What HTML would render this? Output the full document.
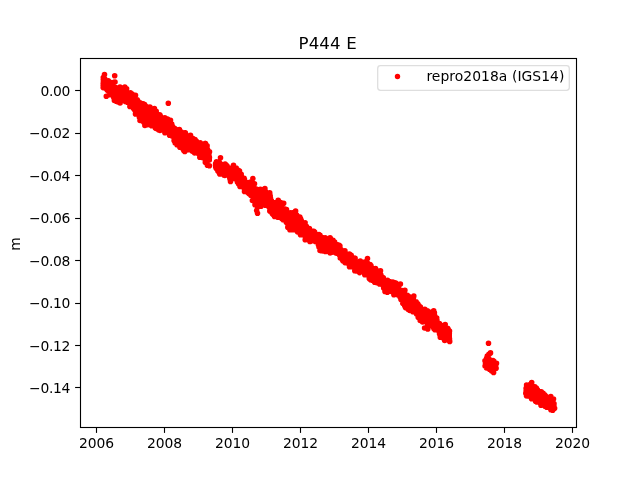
<!DOCTYPE html>
<html lang="en"><head><meta charset="utf-8"><title>P444 E</title>
<style>html,body{margin:0;padding:0;background:#fff;overflow:hidden}svg{display:block}text{font-family:"DejaVu Sans","Liberation Sans",sans-serif;fill:#000}</style></head>
<body>
<svg width="640" height="480" viewBox="0 0 640 480">
<rect width="640" height="480" fill="#fff"/>
<path d="M103.4 83.9h0M103.5 77.7h0M103.6 82.1h0M103.7 84.5h0M104.0 83.4h0M104.0 81.7h0M104.2 82.2h0M104.6 80.6h0M104.9 82.0h0M105.1 84.4h0M105.4 84.0h0M105.4 84.5h0M105.6 84.3h0M105.7 85.1h0M105.7 82.6h0M105.9 83.6h0M106.1 84.4h0M106.1 83.9h0M106.2 84.1h0M106.3 82.4h0M106.4 87.5h0M106.4 87.5h0M106.5 89.1h0M107.0 88.6h0M107.2 89.9h0M107.3 88.6h0M107.3 85.5h0M107.3 86.1h0M107.3 82.7h0M107.4 85.1h0M107.5 84.5h0M107.8 83.7h0M107.8 87.7h0M108.1 88.5h0M108.2 87.0h0M108.2 87.8h0M108.3 89.0h0M108.3 85.4h0M108.4 82.5h0M108.4 83.2h0M108.5 85.8h0M108.5 84.9h0M108.5 81.5h0M108.6 86.1h0M108.6 86.1h0M108.7 88.7h0M108.7 87.3h0M108.8 84.6h0M109.0 85.9h0M109.1 83.7h0M109.1 84.3h0M109.2 84.9h0M109.2 86.9h0M109.4 88.7h0M109.4 84.0h0M109.5 89.4h0M109.5 87.7h0M109.5 86.2h0M109.6 88.7h0M109.6 85.2h0M109.7 89.7h0M109.8 86.7h0M109.8 84.7h0M109.9 89.6h0M109.9 84.9h0M109.9 84.6h0M110.0 87.6h0M110.1 88.5h0M110.2 87.3h0M110.3 82.9h0M110.5 84.3h0M110.6 88.0h0M110.6 88.6h0M110.6 85.5h0M110.6 87.5h0M110.7 86.8h0M110.8 88.7h0M111.4 86.1h0M111.4 90.9h0M111.5 87.3h0M111.6 91.2h0M111.6 90.4h0M111.6 85.3h0M111.7 87.5h0M111.8 88.4h0M111.8 89.7h0M111.8 85.5h0M111.8 88.4h0M112.0 90.3h0M112.3 91.1h0M112.4 87.0h0M112.6 88.6h0M112.7 90.8h0M112.7 86.9h0M112.7 89.9h0M113.0 91.2h0M113.0 87.9h0M113.2 82.5h0M113.2 93.0h0M113.3 92.7h0M113.3 92.0h0M113.3 91.6h0M113.4 85.7h0M113.4 94.1h0M113.4 89.9h0M113.5 92.2h0M113.5 89.2h0M113.6 87.7h0M113.6 89.8h0M113.7 95.6h0M113.7 90.9h0M113.8 88.8h0M113.8 86.6h0M114.0 92.8h0M114.0 92.0h0M114.1 92.8h0M114.3 94.8h0M114.5 96.1h0M114.5 93.4h0M114.6 94.1h0M114.6 93.9h0M114.7 95.3h0M114.7 95.8h0M114.7 95.4h0M114.7 89.9h0M114.8 94.7h0M114.8 96.0h0M115.1 91.4h0M115.3 95.2h0M115.3 93.3h0M115.4 87.8h0M115.4 94.2h0M115.6 96.5h0M115.7 92.3h0M115.9 93.4h0M115.9 99.8h0M116.0 93.4h0M116.2 93.7h0M116.3 96.3h0M116.3 101.2h0M116.5 101.0h0M116.7 97.0h0M117.1 99.1h0M117.6 98.8h0M117.7 94.6h0M117.9 94.1h0M117.9 94.5h0M117.9 100.5h0M118.0 98.4h0M118.0 102.0h0M118.1 100.1h0M118.4 97.0h0M118.6 97.9h0M118.7 97.1h0M118.8 97.0h0M118.9 95.9h0M118.9 94.9h0M119.0 92.9h0M119.0 94.8h0M119.0 99.3h0M119.0 91.3h0M119.1 91.2h0M119.1 94.3h0M119.1 96.1h0M119.3 95.6h0M119.4 97.6h0M119.5 94.5h0M119.6 94.5h0M119.7 97.5h0M119.8 97.5h0M119.8 100.3h0M119.9 99.2h0M120.2 90.5h0M120.3 98.2h0M120.4 93.7h0M120.4 91.0h0M120.5 97.0h0M120.6 96.3h0M120.6 97.1h0M120.7 94.6h0M120.9 94.6h0M120.9 96.9h0M121.0 93.0h0M121.0 95.6h0M121.0 97.0h0M121.1 94.5h0M121.2 96.4h0M121.2 94.8h0M121.3 92.7h0M121.4 92.5h0M121.5 97.0h0M121.6 98.5h0M121.7 94.5h0M121.8 95.3h0M122.0 96.8h0M122.1 91.5h0M122.1 93.4h0M122.2 94.6h0M122.2 95.6h0M122.4 94.2h0M122.4 96.1h0M122.5 93.0h0M122.7 94.9h0M123.1 97.8h0M123.1 92.2h0M123.2 94.2h0M123.3 95.7h0M123.3 99.2h0M123.4 96.5h0M123.4 99.5h0M123.5 99.7h0M123.5 94.3h0M123.6 96.0h0M123.7 92.3h0M124.0 98.1h0M124.0 97.5h0M124.1 95.4h0M124.1 96.1h0M124.3 95.3h0M124.4 93.5h0M124.4 94.4h0M124.5 96.9h0M124.7 92.3h0M124.7 91.5h0M124.8 93.5h0M124.8 95.3h0M125.0 93.1h0M125.3 91.6h0M125.4 94.1h0M125.9 93.5h0M126.0 89.6h0M126.1 92.3h0M126.1 90.0h0M126.1 94.3h0M126.2 94.6h0M126.3 97.6h0M126.3 101.1h0M126.4 94.4h0M126.4 95.1h0M126.4 94.0h0M126.6 88.8h0M126.6 94.6h0M126.6 95.7h0M126.6 96.9h0M126.7 94.9h0M126.7 93.6h0M126.7 96.6h0M126.8 95.4h0M126.9 93.1h0M126.9 93.8h0M127.0 95.4h0M127.2 97.7h0M127.3 100.4h0M127.5 94.3h0M127.6 99.5h0M127.7 95.8h0M127.7 98.4h0M127.8 99.2h0M127.8 94.8h0M127.9 99.3h0M128.0 95.1h0M128.0 96.0h0M128.1 93.4h0M128.3 99.7h0M128.4 98.8h0M128.5 96.8h0M128.5 98.1h0M128.6 95.5h0M128.6 101.3h0M128.7 99.8h0M128.9 101.2h0M129.3 98.9h0M129.3 98.7h0M129.3 99.1h0M129.3 101.8h0M129.4 97.5h0M129.5 99.8h0M129.5 102.5h0M129.6 100.5h0M129.6 102.2h0M129.7 99.4h0M129.8 99.7h0M129.8 101.3h0M129.9 99.5h0M129.9 100.4h0M130.0 98.3h0M130.0 97.1h0M130.0 103.4h0M130.0 99.3h0M130.0 98.0h0M130.2 100.2h0M130.5 96.1h0M130.5 95.9h0M130.5 98.7h0M130.6 100.7h0M130.7 101.1h0M130.8 101.4h0M130.8 101.6h0M131.0 99.4h0M131.0 101.3h0M131.3 100.5h0M131.4 98.6h0M131.5 101.6h0M131.5 101.5h0M131.6 105.7h0M131.6 102.4h0M132.0 99.6h0M132.1 102.3h0M132.1 99.5h0M132.1 102.1h0M132.1 94.1h0M132.2 97.2h0M132.3 96.7h0M132.3 100.3h0M132.7 101.2h0M133.1 99.0h0M133.1 98.1h0M133.1 103.4h0M133.2 107.3h0M133.3 108.1h0M133.4 104.2h0M133.4 105.5h0M133.5 101.6h0M133.6 98.0h0M133.7 105.5h0M133.8 104.9h0M133.8 102.7h0M134.0 105.0h0M134.0 109.1h0M134.1 106.8h0M134.2 103.9h0M134.2 105.9h0M134.3 106.6h0M134.4 104.0h0M134.4 102.0h0M134.6 107.1h0M134.6 102.6h0M134.7 101.4h0M134.8 109.9h0M134.8 108.3h0M135.0 106.2h0M135.1 104.7h0M135.1 106.9h0M135.2 100.5h0M135.4 103.3h0M135.4 102.9h0M135.4 101.5h0M135.5 103.8h0M135.7 101.2h0M135.7 104.5h0M135.9 99.7h0M136.0 102.9h0M136.1 100.8h0M136.2 99.6h0M136.3 101.4h0M136.5 102.9h0M136.5 101.0h0M136.5 106.4h0M136.6 100.9h0M136.6 104.5h0M136.6 104.0h0M136.7 100.3h0M137.0 108.1h0M137.2 99.7h0M137.3 105.6h0M137.3 104.0h0M137.4 106.1h0M137.7 102.0h0M138.0 101.2h0M138.1 103.2h0M138.2 105.4h0M138.4 106.2h0M138.4 104.8h0M138.5 104.7h0M138.5 103.0h0M138.6 102.1h0M138.6 106.5h0M138.7 108.4h0M138.9 108.6h0M138.9 105.7h0M139.1 112.8h0M139.2 105.8h0M139.2 110.1h0M139.3 103.4h0M139.4 108.7h0M139.4 107.1h0M139.6 107.3h0M139.9 107.7h0M139.9 114.7h0M139.9 107.4h0M140.4 110.9h0M140.6 109.3h0M140.6 109.4h0M140.8 110.3h0M140.9 110.6h0M141.0 105.6h0M141.3 110.8h0M141.4 113.0h0M141.4 111.6h0M141.5 114.0h0M141.6 108.0h0M141.8 113.8h0M141.9 109.8h0M141.9 111.4h0M142.0 114.4h0M142.1 115.9h0M142.2 109.8h0M142.2 110.5h0M142.3 117.4h0M142.3 105.3h0M142.4 118.5h0M142.4 118.9h0M142.4 111.9h0M142.5 119.4h0M142.7 116.9h0M142.7 116.7h0M142.8 109.4h0M142.9 113.6h0M143.0 115.6h0M143.0 113.7h0M143.0 114.2h0M143.1 113.3h0M143.2 103.9h0M143.2 110.8h0M143.2 108.4h0M143.3 112.1h0M143.3 110.2h0M143.7 111.4h0M143.7 111.5h0M143.7 116.6h0M143.7 108.3h0M143.7 117.4h0M143.7 110.5h0M143.8 107.3h0M143.9 105.7h0M143.9 114.6h0M144.0 107.8h0M144.0 114.9h0M144.1 112.7h0M144.4 110.3h0M144.5 109.5h0M144.6 112.1h0M144.6 111.6h0M144.8 113.6h0M144.9 111.7h0M144.9 111.2h0M145.2 114.4h0M145.2 107.4h0M145.3 113.8h0M145.3 112.3h0M145.5 108.7h0M145.6 110.1h0M145.6 112.2h0M145.6 108.1h0M145.6 118.4h0M145.7 116.3h0M145.8 109.6h0M145.9 112.8h0M145.9 118.7h0M146.1 114.7h0M146.2 111.1h0M146.2 106.6h0M146.3 106.6h0M146.4 116.6h0M146.4 116.0h0M146.5 111.8h0M146.6 117.0h0M146.6 113.9h0M146.6 114.1h0M146.7 115.4h0M146.7 117.3h0M146.8 124.8h0M147.0 112.9h0M147.2 115.2h0M147.2 119.8h0M147.3 119.3h0M147.3 109.6h0M147.3 118.2h0M147.3 115.1h0M147.4 108.3h0M147.5 120.2h0M147.6 110.5h0M147.6 118.6h0M147.6 112.2h0M147.8 109.3h0M147.8 119.6h0M147.9 118.5h0M147.9 116.4h0M147.9 117.9h0M148.2 116.0h0M148.2 117.0h0M148.2 112.9h0M148.3 117.4h0M148.4 115.4h0M148.4 114.4h0M148.5 112.1h0M148.8 114.0h0M148.8 110.9h0M149.0 114.7h0M149.0 113.2h0M149.0 119.5h0M149.2 113.7h0M149.3 114.5h0M149.4 114.9h0M149.4 117.1h0M149.4 115.9h0M149.7 115.1h0M149.7 122.1h0M149.8 117.3h0M149.8 116.9h0M149.8 122.4h0M149.9 112.1h0M150.0 118.9h0M150.1 118.4h0M150.2 113.0h0M150.3 114.8h0M150.4 118.8h0M150.5 113.8h0M150.6 117.2h0M150.8 120.7h0M150.9 115.9h0M151.0 118.3h0M151.0 115.3h0M151.0 115.1h0M151.1 114.8h0M151.6 115.7h0M151.6 121.3h0M151.6 120.0h0M151.6 125.8h0M151.7 120.8h0M151.8 118.4h0M151.8 122.2h0M151.8 114.6h0M151.9 112.9h0M151.9 116.2h0M152.0 111.1h0M152.2 117.0h0M152.3 119.2h0M152.3 118.3h0M152.3 115.0h0M152.4 115.9h0M152.5 117.3h0M152.5 118.9h0M152.6 114.3h0M152.8 115.1h0M152.8 120.6h0M152.9 117.2h0M152.9 116.5h0M153.0 117.6h0M153.0 115.1h0M153.1 116.6h0M153.1 120.0h0M153.1 115.9h0M153.4 116.3h0M153.5 119.0h0M153.5 118.3h0M153.7 125.7h0M153.7 116.7h0M153.7 120.1h0M153.8 125.2h0M153.8 117.4h0M154.0 118.7h0M154.0 114.3h0M154.4 123.0h0M154.5 124.0h0M154.5 123.2h0M154.5 119.9h0M155.0 120.9h0M155.0 120.0h0M155.1 122.7h0M155.2 119.1h0M155.4 121.4h0M155.5 115.4h0M155.6 119.5h0M155.7 112.5h0M155.7 123.1h0M155.9 126.4h0M155.9 121.9h0M156.0 128.5h0M156.1 119.5h0M156.3 120.3h0M156.3 119.1h0M156.3 119.7h0M156.5 119.8h0M156.9 116.7h0M156.9 118.0h0M157.0 125.3h0M157.1 119.6h0M157.1 124.3h0M157.3 117.8h0M157.3 122.3h0M157.3 124.9h0M157.4 123.8h0M157.5 124.0h0M157.5 123.4h0M157.7 124.7h0M157.9 126.7h0M158.1 128.3h0M158.2 120.8h0M158.3 120.5h0M158.4 126.8h0M158.4 126.8h0M158.4 128.8h0M158.5 129.6h0M158.5 124.7h0M158.5 129.8h0M158.5 126.4h0M158.6 119.4h0M158.6 127.6h0M158.6 125.8h0M158.6 125.2h0M158.7 119.5h0M158.8 121.6h0M158.9 122.7h0M159.1 120.7h0M159.3 123.4h0M159.5 125.4h0M159.5 125.7h0M159.6 126.0h0M159.6 123.1h0M159.6 128.0h0M159.6 123.6h0M159.7 124.7h0M159.7 121.2h0M159.7 116.8h0M159.7 114.9h0M159.8 122.1h0M160.0 118.9h0M160.1 121.2h0M160.3 123.6h0M160.3 117.8h0M160.4 118.0h0M160.4 123.9h0M160.6 123.8h0M160.6 122.8h0M160.8 121.9h0M160.8 117.2h0M160.8 122.9h0M161.1 121.4h0M161.2 124.2h0M161.4 126.7h0M161.5 123.3h0M161.5 125.2h0M161.5 124.8h0M161.5 126.3h0M161.6 128.1h0M161.6 124.0h0M161.8 124.5h0M161.9 124.1h0M161.9 120.4h0M162.0 121.7h0M162.1 124.6h0M162.1 125.9h0M162.2 126.5h0M162.3 127.8h0M162.3 118.3h0M162.4 120.9h0M162.4 117.8h0M162.4 121.2h0M162.6 118.9h0M162.7 127.0h0M162.7 126.4h0M162.7 121.4h0M162.8 124.1h0M162.9 125.1h0M162.9 128.0h0M163.0 125.5h0M163.0 123.7h0M163.1 122.8h0M163.1 124.1h0M163.5 122.7h0M163.7 120.4h0M163.8 120.4h0M163.9 127.0h0M163.9 123.8h0M164.0 125.0h0M164.1 127.5h0M164.2 126.0h0M164.4 128.6h0M164.5 123.9h0M164.6 128.6h0M164.7 123.9h0M164.7 122.7h0M164.8 125.2h0M164.8 128.0h0M164.9 126.4h0M164.9 123.8h0M165.1 129.5h0M165.3 124.7h0M165.4 125.4h0M165.5 127.3h0M165.5 125.0h0M165.6 127.8h0M165.6 127.8h0M165.6 125.9h0M165.8 128.8h0M165.8 125.5h0M165.9 123.6h0M165.9 127.1h0M166.0 124.4h0M166.1 128.3h0M166.1 126.4h0M166.3 125.5h0M166.5 127.5h0M166.5 127.1h0M166.6 119.4h0M166.7 126.8h0M166.8 127.2h0M166.9 127.9h0M167.0 125.3h0M167.1 123.1h0M167.2 126.0h0M167.3 126.6h0M167.3 120.4h0M167.4 121.2h0M167.5 124.8h0M167.5 119.1h0M167.6 123.9h0M167.7 128.1h0M167.8 123.0h0M168.0 124.8h0M168.2 122.7h0M168.3 125.2h0M168.5 127.0h0M168.7 129.0h0M169.0 126.2h0M169.0 128.8h0M169.1 127.9h0M169.1 125.8h0M169.7 131.3h0M169.7 126.5h0M169.7 128.0h0M169.8 134.5h0M170.0 131.9h0M170.1 128.5h0M170.1 131.2h0M170.5 130.0h0M170.5 129.9h0M170.9 126.4h0M171.0 129.9h0M171.0 125.2h0M171.0 130.6h0M171.3 130.3h0M171.3 131.1h0M171.6 133.8h0M171.7 124.0h0M171.7 124.1h0M171.7 125.6h0M171.7 126.8h0M171.8 131.3h0M171.9 129.7h0M171.9 129.5h0M172.0 128.6h0M172.0 129.9h0M172.0 130.0h0M172.3 129.5h0M172.4 126.8h0M172.6 130.0h0M172.6 131.0h0M172.7 130.2h0M172.7 126.6h0M172.8 132.5h0M172.9 132.1h0M173.1 130.3h0M173.3 128.1h0M173.3 128.2h0M173.3 132.6h0M173.6 130.3h0M173.7 128.7h0M173.7 135.3h0M173.8 136.5h0M173.9 135.5h0M173.9 137.4h0M174.0 137.4h0M174.0 134.2h0M174.1 140.5h0M174.2 138.2h0M174.2 138.6h0M174.4 141.0h0M174.7 138.4h0M174.7 140.5h0M174.9 137.6h0M175.1 136.6h0M175.4 135.6h0M175.5 136.1h0M175.6 132.4h0M175.8 136.2h0M175.8 136.4h0M176.0 134.7h0M176.1 131.0h0M176.2 131.1h0M176.2 139.9h0M176.4 135.0h0M176.6 142.6h0M176.7 139.5h0M176.8 141.9h0M176.8 138.5h0M176.9 141.1h0M176.9 140.6h0M177.0 142.0h0M177.0 144.7h0M177.1 143.5h0M177.2 137.6h0M177.6 141.7h0M177.6 142.2h0M177.7 140.3h0M177.9 142.5h0M178.0 144.4h0M178.1 138.6h0M178.1 142.0h0M178.3 142.8h0M178.5 135.8h0M178.5 143.4h0M178.6 143.2h0M178.7 139.0h0M178.7 143.9h0M178.7 139.8h0M178.7 143.0h0M178.8 140.2h0M178.9 136.0h0M179.0 138.8h0M179.1 135.9h0M179.2 137.1h0M179.3 134.0h0M179.3 136.0h0M179.4 135.5h0M179.6 143.5h0M179.7 134.0h0M179.8 137.5h0M179.9 136.3h0M179.9 134.4h0M180.0 141.0h0M180.1 136.4h0M180.2 143.7h0M180.2 140.0h0M180.2 141.1h0M180.4 142.0h0M180.6 143.6h0M180.6 142.3h0M180.6 138.3h0M180.8 140.2h0M180.8 146.0h0M181.0 138.6h0M181.2 145.8h0M181.4 138.5h0M181.6 137.9h0M181.7 135.3h0M182.3 137.7h0M182.3 135.8h0M182.4 139.2h0M182.4 143.1h0M182.5 140.6h0M182.5 140.1h0M182.6 138.9h0M182.6 139.1h0M182.7 136.9h0M182.9 138.8h0M182.9 148.7h0M182.9 142.4h0M183.0 138.2h0M183.0 142.1h0M183.1 146.1h0M183.4 139.9h0M183.5 142.5h0M183.6 139.7h0M183.6 138.2h0M183.8 148.4h0M183.8 150.4h0M184.0 141.9h0M184.0 137.0h0M184.1 146.3h0M184.1 144.8h0M184.3 142.4h0M184.3 145.8h0M184.5 139.2h0M184.6 141.0h0M184.7 140.4h0M184.7 137.2h0M184.9 139.4h0M185.0 139.4h0M185.1 141.9h0M185.1 141.8h0M185.2 132.9h0M185.4 138.7h0M185.5 133.4h0M185.5 136.8h0M185.6 135.6h0M185.6 143.3h0M185.9 140.2h0M185.9 140.2h0M185.9 145.1h0M186.0 144.2h0M186.2 142.0h0M186.3 136.4h0M186.3 143.7h0M186.4 142.5h0M186.6 141.7h0M186.6 144.2h0M186.8 142.4h0M186.9 143.8h0M187.1 146.3h0M187.2 144.0h0M187.2 139.8h0M187.2 146.9h0M187.3 145.7h0M187.4 148.7h0M187.5 142.3h0M187.5 143.8h0M187.6 146.2h0M187.7 144.1h0M187.8 141.7h0M187.9 142.4h0M187.9 142.0h0M187.9 141.0h0M188.0 141.8h0M188.1 143.8h0M188.1 143.1h0M188.2 140.8h0M188.3 145.0h0M188.3 149.6h0M188.3 148.1h0M188.4 139.0h0M188.4 142.3h0M188.5 146.0h0M188.6 145.2h0M188.8 145.7h0M188.9 146.1h0M188.9 145.1h0M189.0 143.5h0M189.0 148.4h0M189.2 142.0h0M189.4 143.9h0M189.4 149.1h0M189.5 148.1h0M189.5 145.5h0M189.6 146.1h0M189.6 145.3h0M189.7 146.1h0M189.9 147.1h0M189.9 149.7h0M189.9 146.4h0M190.1 147.4h0M190.2 146.8h0M190.5 145.1h0M190.5 143.4h0M190.6 145.9h0M190.6 143.9h0M190.7 143.4h0M190.7 143.0h0M191.0 138.9h0M191.0 145.8h0M191.2 147.4h0M191.2 144.5h0M191.2 145.9h0M191.4 147.2h0M191.5 144.5h0M191.6 149.2h0M191.6 148.7h0M191.7 149.4h0M191.7 149.0h0M191.9 141.9h0M191.9 147.9h0M192.0 145.1h0M192.0 146.6h0M192.1 146.4h0M192.1 146.8h0M192.1 144.0h0M192.2 151.1h0M192.2 144.3h0M192.3 141.0h0M192.4 145.6h0M192.4 138.4h0M192.5 147.4h0M192.5 145.2h0M192.6 146.5h0M192.7 146.0h0M192.8 143.6h0M192.9 139.7h0M192.9 142.4h0M193.0 145.8h0M193.2 143.9h0M193.2 144.8h0M193.4 142.6h0M193.6 141.6h0M193.7 144.5h0M194.1 144.8h0M194.2 142.9h0M194.2 141.6h0M194.2 140.2h0M194.3 148.3h0M194.4 141.5h0M194.5 142.2h0M194.7 143.0h0M194.8 147.6h0M194.8 143.9h0M194.9 145.7h0M194.9 145.6h0M195.0 142.0h0M195.1 146.0h0M195.2 143.7h0M195.2 146.1h0M195.3 148.5h0M195.3 145.2h0M195.5 142.6h0M195.7 143.9h0M195.8 144.9h0M195.9 147.2h0M196.2 141.1h0M196.2 141.5h0M196.3 146.3h0M196.4 144.7h0M196.5 145.4h0M196.5 145.0h0M196.6 145.0h0M196.7 143.7h0M197.0 147.1h0M197.1 148.4h0M197.1 147.8h0M197.1 146.0h0M197.2 144.0h0M197.3 145.7h0M197.4 143.5h0M197.4 144.3h0M197.5 146.7h0M197.7 147.2h0M197.7 150.3h0M197.8 150.9h0M198.0 151.0h0M198.1 149.5h0M198.3 149.8h0M198.4 148.4h0M198.6 153.7h0M198.6 150.9h0M198.7 147.9h0M198.7 147.4h0M199.0 153.1h0M199.1 148.9h0M199.2 151.2h0M199.2 149.7h0M199.3 150.4h0M199.4 145.8h0M199.8 149.1h0M199.8 147.7h0M199.8 150.2h0M200.2 153.3h0M200.2 149.8h0M200.3 149.6h0M200.3 152.2h0M200.3 147.2h0M200.4 151.2h0M200.5 148.3h0M200.5 148.4h0M200.7 148.0h0M200.9 147.5h0M200.9 153.9h0M200.9 153.5h0M200.9 151.5h0M201.0 154.3h0M201.2 152.2h0M201.4 149.6h0M201.6 148.6h0M201.8 152.5h0M201.8 152.9h0M201.9 154.7h0M201.9 148.1h0M202.0 148.7h0M202.0 146.7h0M202.1 153.7h0M202.1 150.9h0M202.2 151.4h0M202.2 149.7h0M202.3 148.5h0M202.5 148.5h0M202.6 152.1h0M202.7 147.7h0M202.7 152.3h0M202.7 153.0h0M202.7 150.2h0M202.8 149.1h0M202.9 151.0h0M203.0 153.3h0M203.0 150.1h0M203.0 154.7h0M203.0 156.5h0M203.0 154.1h0M203.0 147.3h0M203.1 145.4h0M203.1 155.3h0M203.1 157.7h0M203.2 149.7h0M203.2 153.5h0M203.3 151.3h0M203.3 150.3h0M203.3 156.3h0M203.4 151.1h0M203.4 154.1h0M203.4 154.9h0M203.4 148.8h0M203.5 155.5h0M203.7 145.9h0M203.8 151.7h0M203.8 149.7h0M204.1 156.7h0M204.3 148.9h0M204.3 146.0h0M204.4 154.1h0M204.4 144.3h0M204.6 150.1h0M204.6 146.7h0M204.7 151.8h0M204.8 147.5h0M204.8 149.2h0M204.8 145.9h0M205.0 143.6h0M205.1 143.7h0M205.2 153.0h0M205.3 149.8h0M205.4 146.1h0M205.5 149.7h0M205.7 153.8h0M205.8 145.8h0M205.9 159.7h0M205.9 150.3h0M206.0 151.4h0M206.1 156.1h0M206.3 153.8h0M206.3 148.8h0M206.3 155.6h0M206.3 154.6h0M206.4 154.9h0M206.6 148.1h0M206.6 148.5h0M206.7 155.5h0M206.7 152.5h0M207.0 146.8h0M207.1 152.1h0M207.1 154.8h0M207.1 149.8h0M207.3 156.9h0M207.6 151.9h0M207.6 154.1h0M207.6 149.8h0M207.7 153.0h0M207.7 154.9h0M207.7 157.8h0M207.8 159.0h0M207.8 160.5h0M207.9 151.1h0M208.0 157.0h0M208.1 157.1h0M209.0 156.1h0M209.1 158.0h0M209.1 156.4h0M209.2 159.6h0M209.2 157.5h0M209.3 160.0h0M209.4 157.6h0M215.6 165.1h0M215.6 165.2h0M215.6 163.9h0M215.7 167.0h0M215.7 164.7h0M215.7 164.0h0M215.8 165.5h0M215.8 165.9h0M216.1 167.9h0M216.3 163.9h0M216.4 164.2h0M216.4 165.4h0M216.7 165.3h0M216.9 166.2h0M217.1 165.6h0M217.1 164.2h0M217.2 165.9h0M217.3 167.4h0M217.4 167.7h0M217.4 166.0h0M217.6 167.5h0M217.6 167.3h0M217.6 166.1h0M217.7 166.3h0M217.7 167.8h0M217.9 170.9h0M217.9 167.6h0M218.0 166.1h0M218.2 167.0h0M218.2 167.5h0M218.2 169.6h0M218.3 164.1h0M218.4 166.1h0M218.5 168.8h0M218.5 168.0h0M218.5 167.3h0M218.5 168.1h0M218.6 164.7h0M218.6 166.3h0M218.7 164.1h0M218.8 164.3h0M218.8 168.3h0M218.9 166.3h0M219.1 167.6h0M219.3 169.0h0M219.5 167.1h0M219.5 171.2h0M219.5 173.3h0M219.9 169.7h0M220.0 171.9h0M220.2 172.3h0M220.4 167.7h0M220.5 168.1h0M220.7 170.0h0M220.7 165.4h0M220.8 169.6h0M220.9 170.3h0M221.0 171.2h0M221.0 171.9h0M221.0 172.7h0M221.0 169.5h0M221.1 173.0h0M221.1 171.5h0M221.2 172.0h0M221.2 170.6h0M221.3 172.3h0M221.3 167.7h0M221.4 169.4h0M221.4 170.7h0M221.4 166.7h0M221.8 166.6h0M221.8 167.4h0M221.9 168.7h0M222.0 170.1h0M222.0 170.7h0M222.1 173.0h0M222.2 172.5h0M222.3 169.1h0M222.4 166.7h0M222.4 165.2h0M222.7 170.3h0M222.8 170.5h0M222.9 169.3h0M223.0 170.0h0M223.0 170.5h0M223.2 165.6h0M223.2 171.1h0M223.3 171.9h0M223.4 170.6h0M223.4 171.0h0M223.7 173.2h0M223.8 173.7h0M223.9 175.1h0M224.1 174.0h0M224.1 172.2h0M224.1 172.0h0M224.2 169.7h0M224.3 170.5h0M224.4 167.7h0M224.5 170.1h0M224.5 171.7h0M224.6 172.5h0M224.7 171.0h0M224.8 170.1h0M224.9 171.4h0M225.2 168.4h0M225.2 165.3h0M225.3 168.8h0M225.3 168.5h0M225.4 164.9h0M225.6 166.1h0M225.8 164.8h0M225.8 166.6h0M226.0 169.1h0M226.0 165.0h0M226.0 168.7h0M226.1 167.6h0M226.1 166.7h0M226.1 165.8h0M226.3 170.6h0M226.5 171.3h0M226.6 167.4h0M226.7 168.8h0M226.8 172.6h0M226.8 168.9h0M226.9 171.0h0M226.9 165.7h0M227.0 167.0h0M227.4 171.4h0M227.5 168.0h0M227.6 167.5h0M227.7 167.6h0M227.9 169.7h0M228.0 168.0h0M228.1 171.5h0M228.2 171.8h0M228.2 174.2h0M228.3 170.7h0M228.4 174.8h0M228.7 172.7h0M228.8 170.9h0M228.8 173.2h0M229.0 175.4h0M229.1 175.6h0M229.1 174.2h0M229.2 173.6h0M229.3 174.7h0M229.5 175.3h0M229.5 174.3h0M229.7 174.5h0M229.7 177.4h0M229.7 171.0h0M229.9 174.1h0M230.0 173.6h0M230.2 178.6h0M230.3 178.4h0M230.3 178.9h0M230.4 175.0h0M230.6 175.2h0M230.6 177.1h0M231.0 175.6h0M231.1 175.3h0M231.2 174.5h0M231.2 175.1h0M231.4 174.0h0M231.6 175.9h0M231.6 172.2h0M231.7 173.4h0M231.7 169.8h0M231.8 172.6h0M232.0 170.6h0M232.1 172.7h0M232.2 173.9h0M232.2 169.6h0M232.2 170.5h0M232.4 174.2h0M232.4 177.1h0M232.4 174.4h0M232.5 173.9h0M232.5 173.8h0M232.6 171.6h0M232.7 172.5h0M232.7 172.8h0M232.9 171.6h0M233.0 171.2h0M233.1 168.3h0M233.1 171.2h0M233.2 171.1h0M233.2 168.8h0M233.5 172.2h0M233.8 168.6h0M233.8 171.2h0M233.8 173.7h0M234.0 175.8h0M234.1 175.7h0M234.1 177.5h0M234.4 174.3h0M234.6 173.6h0M234.6 178.4h0M234.7 172.3h0M234.8 173.4h0M234.9 169.8h0M235.2 176.0h0M235.2 176.2h0M235.4 172.2h0M235.6 169.7h0M235.6 173.2h0M235.6 173.3h0M235.7 174.8h0M235.7 177.1h0M235.8 174.4h0M235.9 172.0h0M235.9 170.8h0M236.0 171.5h0M236.0 169.7h0M236.1 169.8h0M236.1 171.9h0M236.2 168.0h0M236.2 169.5h0M236.3 174.4h0M236.4 170.2h0M236.5 174.1h0M236.5 175.1h0M236.5 173.6h0M236.5 175.9h0M236.5 172.7h0M236.5 171.5h0M236.6 172.6h0M236.6 174.3h0M236.7 175.6h0M236.9 176.5h0M236.9 176.9h0M237.1 180.6h0M237.2 178.7h0M237.3 178.7h0M237.4 181.9h0M237.4 178.0h0M237.4 179.9h0M237.6 182.3h0M237.7 180.1h0M237.7 181.6h0M237.8 177.3h0M237.9 177.8h0M238.0 178.2h0M238.1 176.8h0M238.2 176.7h0M238.3 176.8h0M238.3 179.4h0M238.4 179.4h0M238.4 177.7h0M238.4 177.1h0M238.5 183.6h0M238.7 178.2h0M238.7 183.9h0M238.8 177.7h0M239.1 178.7h0M239.2 183.9h0M239.2 177.5h0M239.3 177.0h0M239.4 179.1h0M239.5 177.6h0M239.5 177.6h0M239.6 179.9h0M239.6 181.6h0M239.7 180.1h0M239.7 180.2h0M239.7 182.7h0M239.8 181.1h0M239.9 177.9h0M239.9 173.4h0M239.9 176.3h0M239.9 181.5h0M239.9 177.4h0M239.9 177.2h0M240.0 179.4h0M240.1 184.5h0M240.1 180.0h0M240.3 179.5h0M240.3 176.6h0M240.4 175.0h0M240.8 184.8h0M240.8 177.7h0M240.9 177.4h0M240.9 177.2h0M241.0 180.7h0M241.1 176.1h0M241.2 174.3h0M241.3 177.5h0M241.4 179.5h0M241.5 185.5h0M241.6 180.7h0M241.6 180.0h0M241.6 181.3h0M241.7 180.2h0M241.7 180.5h0M241.7 182.2h0M242.0 182.9h0M242.0 179.5h0M242.0 182.8h0M242.3 179.9h0M242.7 180.2h0M242.7 179.4h0M242.8 181.9h0M242.8 182.6h0M243.1 183.4h0M243.1 181.0h0M243.1 184.9h0M243.3 182.8h0M243.3 184.0h0M243.6 186.7h0M243.6 187.5h0M243.7 182.3h0M243.9 180.3h0M243.9 183.9h0M244.0 186.4h0M244.0 182.8h0M244.0 187.2h0M244.1 178.3h0M244.2 185.0h0M244.2 183.2h0M244.4 184.4h0M244.4 180.7h0M244.4 186.4h0M244.4 186.1h0M244.4 186.8h0M244.6 183.6h0M244.7 184.3h0M244.7 187.2h0M244.9 186.0h0M245.2 184.9h0M245.3 183.3h0M245.6 185.8h0M245.7 182.8h0M245.9 186.3h0M245.9 185.5h0M245.9 182.8h0M246.0 187.6h0M246.1 189.2h0M246.2 185.8h0M246.3 183.3h0M246.5 186.0h0M246.5 188.7h0M246.5 183.8h0M246.7 185.9h0M246.7 189.1h0M246.7 186.8h0M246.7 185.7h0M246.8 189.6h0M246.9 191.7h0M247.0 188.5h0M247.1 185.7h0M247.2 185.0h0M247.2 188.0h0M247.3 185.0h0M247.4 188.3h0M247.4 190.4h0M247.5 182.9h0M247.5 187.3h0M247.6 188.1h0M247.8 186.2h0M247.8 188.3h0M247.9 188.6h0M247.9 188.7h0M247.9 192.6h0M248.0 187.8h0M248.1 186.0h0M248.2 186.2h0M248.2 185.9h0M248.5 190.1h0M248.5 188.4h0M248.5 189.6h0M248.6 190.2h0M248.9 193.4h0M249.1 191.9h0M249.1 192.0h0M249.2 188.2h0M249.2 189.8h0M249.3 187.4h0M249.5 187.8h0M249.5 188.7h0M249.7 185.7h0M249.8 187.3h0M249.9 192.6h0M250.2 188.6h0M250.3 185.4h0M250.3 186.9h0M250.3 189.4h0M250.5 191.7h0M250.5 190.7h0M250.5 193.0h0M250.6 191.1h0M250.6 187.4h0M250.6 193.4h0M250.7 189.9h0M250.8 195.2h0M251.0 189.9h0M251.1 189.6h0M251.3 186.6h0M251.4 186.7h0M251.4 187.2h0M251.5 185.5h0M251.6 190.0h0M251.6 187.7h0M251.7 191.2h0M251.7 185.7h0M251.9 191.0h0M252.0 189.0h0M252.1 185.8h0M252.2 195.8h0M252.9 193.6h0M253.0 190.9h0M253.1 186.8h0M253.2 189.0h0M253.3 189.5h0M253.3 192.8h0M253.3 185.3h0M253.8 190.9h0M253.8 188.7h0M253.9 194.5h0M253.9 191.3h0M253.9 195.0h0M254.0 197.3h0M254.1 191.5h0M254.1 197.9h0M254.2 191.9h0M254.2 192.7h0M254.2 188.3h0M254.3 191.1h0M254.3 196.7h0M254.3 195.2h0M254.4 192.1h0M254.4 194.0h0M254.4 191.4h0M254.7 193.0h0M254.7 188.6h0M254.8 195.9h0M255.0 195.5h0M255.1 191.0h0M255.4 188.7h0M255.5 194.4h0M255.5 202.7h0M255.7 193.0h0M255.8 195.2h0M255.8 194.7h0M255.9 197.5h0M256.0 192.1h0M256.0 197.7h0M256.3 194.6h0M256.3 194.6h0M256.3 191.0h0M256.4 197.4h0M256.6 194.6h0M256.7 195.5h0M256.7 201.0h0M256.8 198.1h0M257.1 203.5h0M257.3 198.1h0M257.3 198.7h0M257.4 200.8h0M257.5 206.7h0M257.6 203.7h0M257.7 198.4h0M257.7 200.3h0M257.8 195.2h0M257.8 198.2h0M257.9 193.4h0M257.9 194.9h0M258.0 197.6h0M258.2 200.8h0M258.3 199.5h0M258.3 198.1h0M258.4 196.9h0M258.4 191.0h0M258.4 197.6h0M258.4 198.0h0M258.5 201.2h0M258.5 205.1h0M258.5 201.9h0M258.6 193.1h0M258.7 197.4h0M258.7 196.1h0M258.7 199.6h0M258.7 198.7h0M259.1 193.3h0M259.3 197.0h0M259.3 196.4h0M259.3 191.8h0M259.4 196.3h0M259.5 196.8h0M259.6 201.9h0M259.7 199.5h0M259.7 198.6h0M259.7 200.8h0M259.9 202.6h0M260.0 204.4h0M260.0 200.1h0M260.1 195.6h0M260.1 206.3h0M260.2 203.0h0M260.3 201.4h0M260.3 206.3h0M260.6 197.2h0M260.7 198.6h0M260.7 199.2h0M260.7 203.8h0M260.8 201.1h0M260.9 204.6h0M261.0 200.6h0M261.1 205.5h0M261.2 204.3h0M261.2 197.2h0M261.3 201.1h0M261.4 196.0h0M261.4 198.7h0M261.5 200.4h0M261.5 205.5h0M261.7 198.0h0M261.9 193.4h0M261.9 198.0h0M262.0 193.7h0M262.4 201.8h0M262.4 197.8h0M262.5 200.6h0M262.7 196.0h0M262.9 194.9h0M262.9 197.0h0M263.0 193.6h0M263.1 195.4h0M263.1 196.9h0M263.1 197.7h0M263.2 193.3h0M263.4 192.3h0M263.4 203.5h0M263.5 197.0h0M263.5 198.2h0M263.6 200.6h0M263.6 199.7h0M263.8 196.8h0M263.9 196.8h0M263.9 203.6h0M264.0 201.0h0M264.0 199.9h0M264.1 201.9h0M264.1 192.0h0M264.2 196.8h0M264.3 193.2h0M264.4 190.3h0M264.4 197.3h0M264.4 198.6h0M264.7 197.5h0M264.7 192.1h0M264.8 196.2h0M264.9 197.5h0M265.0 197.5h0M265.1 198.4h0M265.3 198.5h0M265.4 202.8h0M265.4 199.0h0M265.5 205.3h0M265.5 199.0h0M265.6 199.8h0M265.6 201.6h0M265.6 199.2h0M265.6 197.6h0M265.7 201.1h0M265.9 192.0h0M266.1 194.9h0M266.1 204.1h0M266.5 200.7h0M266.5 200.6h0M266.5 199.4h0M266.5 199.6h0M266.5 196.1h0M266.6 198.8h0M266.6 198.1h0M266.7 204.0h0M266.9 202.9h0M267.2 202.4h0M267.3 202.9h0M267.3 201.2h0M267.4 196.1h0M267.4 204.7h0M267.5 200.8h0M267.5 198.1h0M267.5 200.9h0M267.6 203.5h0M267.6 203.0h0M267.7 201.1h0M267.7 201.5h0M267.8 197.6h0M267.9 204.0h0M268.1 204.7h0M268.1 204.5h0M268.4 199.4h0M268.5 205.8h0M268.5 204.6h0M268.6 205.9h0M268.6 196.0h0M268.6 198.1h0M268.7 203.0h0M268.7 198.6h0M268.8 200.6h0M269.1 199.6h0M269.2 202.5h0M269.3 197.3h0M269.3 194.8h0M269.5 201.5h0M269.5 197.8h0M269.6 196.1h0M269.8 194.0h0M269.8 211.1h0M269.8 199.0h0M270.0 199.9h0M270.2 196.1h0M270.2 199.1h0M270.3 200.5h0M270.4 200.5h0M270.4 201.6h0M270.5 198.4h0M270.7 204.1h0M270.7 206.3h0M270.7 202.1h0M271.3 205.3h0M271.4 200.7h0M271.7 203.3h0M271.8 202.3h0M271.9 207.4h0M271.9 205.1h0M272.1 210.9h0M272.1 207.9h0M272.2 209.5h0M272.4 209.7h0M272.4 209.9h0M272.4 207.0h0M272.4 213.8h0M272.5 209.3h0M272.5 204.3h0M272.8 207.9h0M272.8 206.9h0M272.9 213.8h0M273.1 213.3h0M273.1 214.5h0M273.2 214.6h0M273.4 209.1h0M273.4 204.9h0M273.4 207.5h0M273.5 210.8h0M273.7 203.1h0M273.7 209.1h0M273.7 213.2h0M273.8 209.3h0M273.9 210.5h0M274.0 207.2h0M274.2 213.8h0M274.4 214.4h0M274.5 207.4h0M274.6 208.9h0M274.7 211.5h0M275.0 214.1h0M275.1 213.0h0M275.2 212.6h0M275.5 213.9h0M275.5 213.5h0M275.6 214.0h0M275.8 209.4h0M275.9 208.2h0M276.0 210.0h0M276.1 215.9h0M276.1 213.0h0M276.1 212.6h0M276.3 212.9h0M276.5 211.8h0M276.7 213.6h0M276.7 205.2h0M276.9 206.4h0M277.0 207.1h0M277.1 207.0h0M277.3 204.8h0M277.7 201.9h0M277.8 205.7h0M277.9 204.9h0M278.0 206.5h0M278.3 212.6h0M278.5 210.0h0M278.5 203.0h0M278.7 202.8h0M278.7 204.8h0M278.8 207.7h0M278.9 205.6h0M278.9 206.5h0M278.9 201.5h0M279.0 204.8h0M279.0 204.4h0M279.0 206.7h0M279.2 206.3h0M279.2 204.7h0M279.5 204.6h0M279.7 209.1h0M279.9 207.3h0M280.1 213.3h0M280.2 209.7h0M280.3 209.0h0M280.3 211.0h0M280.3 203.2h0M280.4 209.3h0M280.4 205.2h0M280.5 210.1h0M280.5 206.5h0M280.6 206.7h0M280.7 202.6h0M281.0 207.9h0M281.0 209.1h0M281.0 203.2h0M281.4 213.1h0M281.4 208.7h0M281.5 205.9h0M281.5 215.0h0M281.6 210.3h0M281.6 215.6h0M281.7 203.3h0M281.8 218.6h0M281.8 214.3h0M282.0 212.7h0M282.0 212.6h0M282.1 209.5h0M282.1 216.2h0M282.1 215.3h0M282.2 214.4h0M282.2 212.2h0M282.4 209.0h0M282.7 212.4h0M282.9 215.1h0M282.9 211.9h0M282.9 210.8h0M282.9 210.4h0M283.0 214.1h0M283.3 215.4h0M283.5 210.6h0M283.6 209.3h0M283.7 218.5h0M283.8 208.8h0M284.1 214.1h0M284.1 214.6h0M284.4 218.8h0M284.6 215.9h0M284.6 211.9h0M284.7 213.3h0M284.8 215.4h0M284.9 215.5h0M285.0 213.8h0M285.0 214.3h0M285.0 211.0h0M285.1 210.4h0M285.6 212.8h0M285.6 212.6h0M285.6 214.9h0M285.9 212.3h0M285.9 218.7h0M286.0 209.5h0M286.1 215.8h0M286.1 214.0h0M286.3 217.0h0M286.5 216.5h0M286.5 209.6h0M286.8 216.2h0M286.8 218.2h0M286.9 220.0h0M287.0 219.0h0M287.1 216.7h0M287.3 221.0h0M287.3 216.1h0M287.3 214.2h0M287.4 216.0h0M287.4 215.0h0M287.5 216.4h0M287.5 218.4h0M287.5 223.6h0M287.7 218.0h0M288.2 218.8h0M288.6 217.0h0M288.6 218.8h0M288.7 215.5h0M288.7 220.1h0M288.8 220.0h0M288.8 219.6h0M288.8 220.7h0M288.8 220.1h0M288.9 223.1h0M288.9 222.9h0M289.1 223.4h0M289.2 221.8h0M289.3 224.1h0M289.4 221.5h0M289.5 225.7h0M289.5 223.9h0M289.5 227.7h0M289.7 225.0h0M289.7 225.8h0M289.7 221.8h0M290.2 226.5h0M290.3 226.5h0M290.3 225.4h0M290.5 226.1h0M290.5 224.2h0M290.7 220.9h0M290.8 219.3h0M290.9 225.4h0M291.0 224.4h0M291.1 227.8h0M291.1 229.7h0M291.1 225.5h0M291.2 224.0h0M291.4 224.4h0M291.7 223.1h0M292.2 219.6h0M292.2 212.9h0M292.2 223.0h0M292.4 221.9h0M292.5 220.5h0M292.6 220.7h0M292.7 223.8h0M293.0 223.6h0M293.1 221.7h0M293.3 219.9h0M293.3 222.9h0M293.3 223.9h0M293.3 228.8h0M293.3 219.5h0M293.5 223.3h0M293.6 218.9h0M293.6 221.4h0M293.8 229.6h0M293.9 221.0h0M294.0 223.2h0M294.0 222.2h0M294.1 227.0h0M294.2 221.8h0M294.2 216.9h0M294.3 222.7h0M294.4 226.6h0M294.6 222.0h0M294.6 220.8h0M294.6 218.7h0M294.7 218.2h0M294.8 220.2h0M294.8 217.5h0M294.8 219.8h0M294.8 217.6h0M294.9 219.9h0M294.9 222.6h0M294.9 220.3h0M295.1 223.3h0M295.4 219.9h0M295.4 217.8h0M295.4 215.9h0M295.5 220.3h0M295.5 215.7h0M295.6 220.9h0M295.6 214.7h0M295.7 215.7h0M295.8 217.1h0M295.9 216.2h0M296.0 221.1h0M296.0 219.6h0M296.0 221.2h0M296.5 223.4h0M296.6 215.1h0M296.6 221.1h0M296.8 223.0h0M296.8 224.4h0M297.0 221.9h0M297.2 219.1h0M297.2 224.3h0M297.2 225.4h0M297.2 230.7h0M297.5 231.7h0M297.6 225.1h0M297.6 230.2h0M297.6 226.1h0M297.7 221.1h0M297.8 227.4h0M297.9 228.7h0M297.9 217.4h0M297.9 227.5h0M298.0 221.3h0M298.0 230.1h0M298.0 225.6h0M298.4 226.5h0M298.4 230.0h0M298.7 225.0h0M298.8 232.0h0M298.8 220.1h0M298.8 221.6h0M299.0 220.8h0M299.0 226.5h0M299.1 226.3h0M299.3 229.8h0M299.5 231.1h0M299.6 229.5h0M299.7 233.1h0M299.8 231.5h0M299.8 227.3h0M299.9 224.9h0M299.9 225.0h0M299.9 230.3h0M300.1 226.9h0M300.2 223.8h0M300.2 223.7h0M300.2 226.5h0M300.2 227.3h0M300.4 224.8h0M300.4 222.8h0M300.4 227.0h0M300.5 218.8h0M300.6 225.1h0M300.6 228.3h0M300.7 226.2h0M300.7 230.3h0M300.7 226.8h0M300.7 228.1h0M300.7 226.0h0M300.8 225.1h0M300.9 228.0h0M300.9 229.1h0M300.9 220.4h0M301.1 225.6h0M301.2 220.3h0M301.2 224.8h0M301.5 224.8h0M301.6 225.8h0M301.6 224.9h0M301.7 228.4h0M301.8 230.7h0M301.8 224.2h0M301.9 225.3h0M302.2 229.2h0M302.3 225.5h0M302.3 228.1h0M302.3 224.0h0M302.3 230.4h0M302.4 229.4h0M302.4 226.3h0M302.5 224.3h0M302.8 225.6h0M302.8 229.5h0M302.8 225.7h0M302.9 223.0h0M303.0 226.6h0M303.1 230.2h0M303.2 230.1h0M303.4 231.4h0M303.4 227.9h0M303.4 225.8h0M303.4 225.4h0M303.4 224.9h0M303.5 224.7h0M303.5 223.3h0M303.8 226.5h0M303.9 227.9h0M303.9 230.4h0M303.9 226.0h0M304.0 224.9h0M304.0 230.6h0M304.1 233.3h0M304.4 227.0h0M304.5 230.5h0M304.5 234.1h0M304.6 227.9h0M304.7 232.2h0M304.7 226.6h0M304.8 230.6h0M304.8 234.0h0M304.8 235.7h0M304.8 233.8h0M304.9 226.5h0M305.0 227.1h0M305.1 229.7h0M305.2 235.3h0M305.3 234.6h0M305.4 234.6h0M305.8 233.4h0M305.8 229.8h0M306.0 230.1h0M306.1 228.2h0M306.2 233.8h0M306.3 229.1h0M306.4 233.5h0M306.5 234.6h0M306.5 237.5h0M306.6 231.7h0M306.6 234.4h0M306.8 230.9h0M306.8 234.7h0M307.1 231.6h0M307.2 230.2h0M307.2 230.2h0M307.3 231.7h0M307.3 231.1h0M307.4 231.3h0M307.5 235.4h0M307.5 231.3h0M307.7 235.3h0M307.7 236.8h0M307.7 231.3h0M307.8 229.3h0M308.0 236.0h0M308.0 230.7h0M308.1 232.3h0M308.3 233.0h0M308.3 233.0h0M308.3 231.3h0M308.8 229.6h0M308.8 233.2h0M308.8 233.1h0M308.9 237.2h0M308.9 231.3h0M309.0 232.9h0M309.2 234.2h0M309.4 235.8h0M309.5 235.8h0M309.5 236.0h0M309.5 240.6h0M309.5 237.0h0M309.6 237.5h0M309.6 236.6h0M309.7 235.1h0M309.7 237.9h0M309.8 232.3h0M309.8 240.3h0M310.0 234.1h0M310.1 236.8h0M310.2 237.1h0M310.2 235.2h0M310.3 233.8h0M310.4 237.8h0M310.4 241.2h0M310.5 238.3h0M310.8 237.2h0M310.9 234.6h0M311.1 234.3h0M311.1 238.2h0M311.3 238.0h0M311.3 238.9h0M311.4 238.5h0M311.5 240.0h0M311.5 235.3h0M311.7 234.8h0M311.8 234.6h0M311.8 236.0h0M311.8 235.9h0M311.8 235.4h0M311.8 232.3h0M311.9 234.9h0M311.9 235.2h0M311.9 235.2h0M312.0 231.1h0M312.0 236.9h0M312.3 236.7h0M312.4 239.6h0M312.5 237.2h0M312.6 238.4h0M312.8 235.3h0M312.8 237.1h0M312.9 238.2h0M313.0 234.8h0M313.3 235.6h0M313.3 235.7h0M313.5 235.7h0M313.6 234.3h0M313.8 234.4h0M313.8 231.2h0M313.9 233.5h0M314.0 234.3h0M314.0 233.9h0M314.1 231.8h0M314.3 232.2h0M314.4 235.3h0M314.4 235.8h0M314.4 236.7h0M314.8 235.6h0M314.8 235.3h0M314.8 237.1h0M315.1 234.5h0M315.1 233.6h0M315.2 237.5h0M315.6 234.6h0M315.6 237.0h0M315.7 235.1h0M315.7 235.3h0M315.8 240.2h0M315.8 237.9h0M316.0 235.8h0M316.2 238.4h0M316.2 239.0h0M316.3 238.3h0M316.4 239.8h0M316.5 237.6h0M316.5 239.7h0M316.8 241.5h0M316.8 241.3h0M316.8 240.0h0M316.9 238.3h0M317.3 234.7h0M317.7 241.7h0M317.7 236.0h0M317.7 237.2h0M317.9 237.9h0M317.9 238.3h0M317.9 237.4h0M317.9 235.5h0M318.2 238.6h0M318.3 243.5h0M318.4 244.7h0M318.4 239.4h0M318.4 241.3h0M318.5 236.1h0M318.5 241.5h0M318.6 243.3h0M318.7 241.0h0M318.8 244.9h0M318.8 242.4h0M318.9 242.4h0M319.0 234.6h0M319.0 238.4h0M319.0 241.6h0M319.1 237.9h0M319.2 236.1h0M319.3 239.0h0M319.3 243.0h0M319.4 240.6h0M319.6 241.8h0M319.8 241.7h0M320.0 245.9h0M320.0 235.3h0M320.0 238.9h0M320.1 248.2h0M320.3 247.0h0M320.3 243.6h0M320.4 242.1h0M320.5 238.9h0M320.6 242.2h0M320.6 243.3h0M320.8 241.8h0M320.9 246.8h0M321.0 246.9h0M321.1 243.7h0M321.2 247.4h0M321.2 245.1h0M321.4 245.6h0M321.6 244.7h0M321.6 250.8h0M321.6 243.2h0M321.7 246.7h0M321.8 250.8h0M321.8 249.8h0M321.9 243.1h0M322.2 243.9h0M322.2 244.9h0M322.3 243.2h0M322.4 242.3h0M322.6 243.3h0M322.7 244.5h0M322.8 247.8h0M322.8 240.6h0M322.8 246.9h0M322.9 244.4h0M322.9 247.3h0M322.9 244.7h0M323.0 251.0h0M323.0 241.4h0M323.1 248.2h0M323.2 244.5h0M323.2 245.1h0M323.3 249.8h0M323.3 245.3h0M323.3 247.8h0M323.4 249.2h0M323.4 243.7h0M323.5 249.5h0M323.5 247.7h0M323.6 243.1h0M323.6 243.8h0M323.8 240.9h0M323.8 243.1h0M323.8 244.1h0M323.9 244.3h0M324.0 243.2h0M324.2 242.6h0M324.5 243.0h0M324.5 241.7h0M324.5 243.6h0M324.9 244.8h0M325.0 242.7h0M325.2 243.0h0M325.2 241.9h0M325.2 245.7h0M325.2 244.4h0M325.2 241.7h0M325.3 247.5h0M325.4 246.8h0M325.6 243.3h0M325.7 242.3h0M326.0 242.8h0M326.3 240.9h0M326.5 246.0h0M326.6 246.0h0M326.8 244.8h0M327.0 243.0h0M327.0 242.0h0M327.0 242.9h0M327.1 245.6h0M327.1 240.2h0M327.2 242.8h0M327.2 241.9h0M327.5 240.6h0M327.5 244.6h0M327.5 246.8h0M327.6 242.3h0M327.8 245.9h0M327.9 245.1h0M327.9 244.2h0M328.0 246.6h0M328.0 242.6h0M328.3 248.4h0M328.3 243.7h0M328.4 245.4h0M328.5 240.6h0M328.5 247.1h0M328.6 244.0h0M328.9 243.1h0M328.9 241.7h0M329.2 243.2h0M329.2 246.1h0M329.3 244.7h0M329.4 243.0h0M329.6 242.2h0M329.8 241.5h0M329.8 243.9h0M329.8 241.2h0M329.8 242.8h0M329.9 246.1h0M329.9 243.4h0M330.1 243.3h0M330.1 242.9h0M330.1 247.1h0M330.2 247.0h0M330.3 248.6h0M330.3 244.7h0M330.4 242.9h0M330.4 244.1h0M330.7 244.1h0M330.9 247.3h0M331.0 246.7h0M331.2 245.5h0M331.2 248.1h0M331.4 252.3h0M331.5 251.5h0M331.7 247.9h0M331.8 249.8h0M331.8 251.4h0M332.0 251.9h0M332.1 248.7h0M332.1 246.6h0M332.2 249.3h0M332.2 246.8h0M332.3 247.7h0M332.3 248.0h0M332.3 250.4h0M332.3 247.7h0M332.3 247.5h0M332.5 246.8h0M332.6 246.2h0M332.6 249.2h0M332.7 245.4h0M332.8 248.2h0M332.9 247.3h0M332.9 243.2h0M333.0 243.2h0M333.0 240.3h0M333.3 246.8h0M333.3 245.8h0M333.3 244.0h0M333.4 244.9h0M333.6 244.8h0M333.6 244.4h0M333.7 244.6h0M334.4 245.7h0M334.4 243.5h0M334.6 247.3h0M335.1 246.9h0M335.2 245.0h0M335.2 248.9h0M335.3 249.6h0M335.4 248.1h0M335.4 248.2h0M335.5 244.9h0M335.5 245.8h0M335.7 244.4h0M335.7 247.8h0M335.9 251.0h0M336.1 247.7h0M336.2 246.3h0M336.2 252.6h0M336.3 253.3h0M336.3 252.7h0M336.3 247.9h0M336.4 251.7h0M336.4 247.9h0M336.4 248.9h0M336.5 250.8h0M336.5 251.9h0M336.5 247.7h0M336.6 247.5h0M336.7 246.3h0M336.8 248.1h0M336.8 246.3h0M336.9 246.9h0M336.9 250.1h0M337.1 249.5h0M337.1 251.0h0M337.4 251.1h0M337.5 251.4h0M337.6 252.8h0M337.6 247.2h0M337.7 246.2h0M337.7 250.6h0M337.7 251.0h0M338.1 253.2h0M338.1 251.6h0M338.2 253.2h0M338.2 250.9h0M338.4 249.4h0M338.4 253.2h0M338.4 250.2h0M338.4 250.6h0M338.5 252.1h0M338.5 250.6h0M338.6 252.9h0M338.7 249.6h0M338.7 253.3h0M338.8 246.9h0M338.9 250.7h0M339.0 248.9h0M339.1 252.1h0M339.1 249.1h0M339.1 251.8h0M339.2 245.4h0M339.2 249.5h0M339.3 254.5h0M339.3 251.0h0M339.4 250.6h0M339.5 251.5h0M339.5 255.0h0M339.6 248.3h0M339.7 251.1h0M339.7 250.0h0M339.7 251.7h0M339.8 249.8h0M339.9 248.7h0M339.9 247.9h0M340.4 253.5h0M340.4 252.2h0M340.5 254.6h0M340.5 250.0h0M340.6 251.0h0M340.6 251.6h0M340.7 254.4h0M340.8 251.9h0M340.9 251.3h0M340.9 249.6h0M341.0 252.7h0M341.0 249.7h0M341.1 253.2h0M341.3 255.2h0M341.3 251.4h0M341.3 250.4h0M341.3 257.9h0M341.3 253.9h0M341.4 253.4h0M341.5 253.1h0M341.5 254.4h0M341.5 254.5h0M341.6 254.6h0M341.6 252.2h0M341.7 253.3h0M341.8 255.3h0M342.0 256.2h0M342.0 256.1h0M342.1 256.1h0M342.1 251.2h0M342.2 252.9h0M342.2 254.3h0M342.2 255.8h0M342.4 254.6h0M342.4 259.7h0M342.5 255.6h0M342.7 255.9h0M342.8 254.0h0M342.9 260.7h0M343.1 258.3h0M343.1 257.6h0M343.3 256.0h0M343.4 257.1h0M343.7 256.5h0M343.8 259.6h0M343.8 255.1h0M343.8 255.5h0M344.0 254.6h0M344.1 256.6h0M344.1 257.1h0M344.1 258.3h0M344.2 256.9h0M344.3 256.6h0M344.7 255.5h0M344.7 257.3h0M344.7 256.1h0M344.8 256.7h0M345.1 252.6h0M345.1 254.9h0M345.4 255.6h0M345.5 253.4h0M345.6 260.5h0M345.7 260.7h0M345.8 260.5h0M345.9 260.8h0M345.9 261.8h0M346.0 255.8h0M346.1 260.9h0M346.2 254.3h0M346.4 258.3h0M346.4 258.4h0M346.7 258.6h0M346.7 257.6h0M346.8 258.3h0M346.8 255.7h0M347.3 257.0h0M347.4 256.9h0M347.4 259.0h0M347.5 257.5h0M347.6 254.2h0M347.6 259.6h0M347.6 254.7h0M347.9 257.3h0M347.9 257.8h0M348.1 258.2h0M348.2 261.7h0M348.3 259.0h0M348.3 257.1h0M348.4 260.2h0M348.4 259.1h0M348.6 258.9h0M348.6 263.1h0M348.6 263.7h0M348.6 258.8h0M348.7 263.7h0M348.9 263.3h0M349.1 256.5h0M349.1 260.0h0M349.4 258.9h0M349.4 260.8h0M349.4 254.1h0M349.5 259.5h0M349.5 257.0h0M349.6 259.3h0M349.7 260.0h0M349.8 254.3h0M349.8 257.2h0M349.8 257.1h0M349.9 257.7h0M350.1 259.4h0M350.2 259.3h0M350.2 255.6h0M350.2 258.6h0M350.4 255.9h0M350.5 259.9h0M350.6 257.9h0M350.8 258.0h0M351.1 258.5h0M351.2 255.4h0M351.2 257.2h0M351.3 257.9h0M351.3 263.1h0M351.4 264.2h0M351.5 258.8h0M351.5 256.2h0M351.6 260.9h0M351.7 259.9h0M351.7 259.3h0M351.8 266.7h0M352.0 261.3h0M352.2 260.5h0M352.3 262.2h0M352.4 263.7h0M352.4 266.6h0M352.5 264.7h0M352.7 261.1h0M352.7 262.5h0M352.8 266.8h0M352.8 259.4h0M353.0 263.3h0M353.2 266.0h0M353.2 262.9h0M353.3 261.5h0M353.3 259.9h0M353.3 262.0h0M353.4 262.5h0M353.5 261.9h0M353.8 264.6h0M353.8 263.4h0M354.1 266.9h0M354.4 263.6h0M354.6 264.7h0M354.7 261.5h0M354.7 266.7h0M354.8 266.3h0M354.8 264.8h0M354.9 261.1h0M355.0 263.9h0M355.1 258.4h0M355.2 264.9h0M355.3 265.5h0M355.7 264.1h0M355.7 266.0h0M355.8 268.0h0M355.8 271.0h0M356.0 268.3h0M356.0 265.2h0M356.1 261.6h0M356.6 266.6h0M356.7 267.5h0M356.7 267.6h0M356.8 266.1h0M357.1 263.6h0M357.3 265.2h0M357.3 265.9h0M357.6 266.9h0M357.7 267.5h0M358.0 267.1h0M358.1 270.5h0M358.2 266.7h0M358.2 265.9h0M358.4 267.8h0M358.5 268.2h0M358.6 264.8h0M358.7 262.8h0M359.2 263.0h0M359.2 265.9h0M359.2 266.6h0M359.5 266.5h0M359.5 267.9h0M359.6 269.7h0M359.6 266.3h0M359.6 272.5h0M359.7 272.5h0M359.8 269.4h0M359.8 268.2h0M360.0 268.5h0M360.0 264.7h0M360.0 267.6h0M360.0 265.1h0M360.1 266.3h0M360.1 265.0h0M360.2 269.2h0M360.3 265.9h0M360.3 267.1h0M360.5 266.4h0M360.5 269.9h0M360.5 268.3h0M360.6 262.4h0M360.6 264.0h0M360.8 266.4h0M360.9 264.8h0M360.9 268.0h0M361.0 266.5h0M361.1 263.0h0M361.3 264.8h0M361.3 267.4h0M361.4 266.6h0M361.5 267.9h0M361.5 269.1h0M361.5 268.2h0M361.5 270.6h0M361.5 265.4h0M361.7 269.6h0M361.7 267.9h0M361.7 269.6h0M361.8 270.6h0M361.9 270.1h0M361.9 270.6h0M361.9 270.5h0M362.1 271.0h0M362.3 269.5h0M362.4 271.4h0M362.4 270.6h0M362.4 268.9h0M362.5 267.7h0M362.5 267.5h0M362.7 264.3h0M362.7 266.1h0M362.7 266.8h0M362.8 269.8h0M363.2 269.1h0M363.3 267.1h0M363.6 263.8h0M363.7 265.5h0M363.8 265.8h0M363.9 265.6h0M363.9 263.0h0M364.0 262.4h0M364.2 262.5h0M364.7 262.6h0M364.8 267.5h0M364.9 266.4h0M365.0 271.7h0M365.1 271.4h0M365.2 269.5h0M365.2 265.6h0M365.3 268.0h0M365.5 267.9h0M365.6 264.8h0M365.6 266.3h0M365.6 267.5h0M365.7 271.5h0M365.8 267.2h0M365.9 264.0h0M365.9 268.6h0M366.0 269.7h0M366.1 265.4h0M366.1 273.7h0M366.2 267.4h0M366.3 271.4h0M366.4 271.0h0M366.4 266.5h0M366.5 267.1h0M366.5 269.9h0M366.5 269.3h0M366.6 270.4h0M366.7 268.5h0M366.7 264.5h0M366.8 269.2h0M367.0 266.6h0M367.0 267.9h0M367.1 269.1h0M367.2 269.3h0M367.2 271.6h0M367.4 268.4h0M367.4 266.7h0M367.4 270.3h0M367.5 269.5h0M367.5 268.0h0M367.7 268.6h0M367.8 267.9h0M367.8 270.2h0M367.8 267.5h0M367.9 273.1h0M368.0 272.8h0M368.0 263.5h0M368.2 266.0h0M368.2 269.4h0M368.3 269.3h0M368.5 265.8h0M368.5 272.6h0M368.7 268.0h0M368.8 272.5h0M368.9 271.9h0M369.0 275.8h0M369.2 270.3h0M369.3 278.4h0M369.4 271.1h0M369.4 277.4h0M369.5 276.0h0M369.5 276.0h0M369.6 271.4h0M369.7 279.0h0M369.7 275.9h0M369.8 270.0h0M369.9 267.2h0M369.9 271.6h0M370.0 270.3h0M370.1 273.8h0M370.2 272.5h0M370.4 274.2h0M370.4 272.4h0M370.5 275.3h0M370.6 271.8h0M370.7 267.4h0M370.9 265.5h0M371.0 274.7h0M371.3 270.1h0M371.4 267.4h0M371.5 270.4h0M371.5 273.2h0M371.6 276.8h0M371.7 269.4h0M371.9 274.9h0M372.1 278.8h0M372.1 277.6h0M372.1 278.3h0M372.2 280.2h0M372.2 272.9h0M372.3 274.5h0M372.3 277.5h0M372.5 279.7h0M372.9 277.0h0M372.9 275.5h0M373.2 273.1h0M373.3 277.8h0M373.4 276.9h0M373.5 273.3h0M373.6 273.4h0M373.7 272.5h0M373.9 276.0h0M373.9 274.9h0M374.0 278.3h0M374.2 278.6h0M374.3 275.8h0M374.3 277.4h0M374.3 276.6h0M374.4 278.3h0M374.6 272.8h0M374.8 274.6h0M374.9 277.9h0M374.9 276.4h0M375.0 274.3h0M375.4 275.8h0M375.4 282.1h0M375.5 276.1h0M375.5 275.0h0M375.5 278.6h0M375.5 276.4h0M375.6 273.3h0M375.6 273.7h0M375.6 276.9h0M375.7 275.5h0M375.7 280.4h0M375.8 273.8h0M375.8 273.0h0M376.0 274.8h0M376.0 274.0h0M376.1 279.5h0M376.4 275.0h0M376.6 281.1h0M376.7 278.8h0M376.7 282.6h0M376.7 276.4h0M376.8 279.9h0M376.8 273.2h0M377.1 277.0h0M377.2 275.5h0M377.2 279.0h0M377.2 276.4h0M377.2 275.8h0M377.3 273.8h0M377.5 272.1h0M377.6 274.4h0M377.7 277.7h0M377.8 276.1h0M377.9 279.9h0M377.9 276.4h0M378.0 275.4h0M378.0 275.0h0M378.1 275.9h0M378.3 274.2h0M378.3 273.4h0M378.4 271.9h0M378.4 271.4h0M378.6 277.2h0M378.7 276.5h0M378.8 274.6h0M378.8 273.7h0M378.9 272.1h0M378.9 276.9h0M378.9 274.3h0M379.0 279.4h0M379.1 272.0h0M379.1 276.4h0M379.2 279.3h0M379.4 274.6h0M379.6 281.1h0M379.7 278.1h0M379.8 278.5h0M379.8 273.8h0M379.9 277.4h0M379.9 278.1h0M380.0 275.2h0M380.0 279.6h0M380.1 278.1h0M380.1 273.0h0M380.1 277.6h0M380.2 281.2h0M380.3 276.2h0M380.5 279.6h0M380.7 277.0h0M380.8 279.3h0M380.8 274.7h0M380.9 276.9h0M380.9 280.8h0M381.0 279.7h0M381.1 278.6h0M381.1 283.1h0M381.3 281.6h0M381.3 278.7h0M381.4 276.9h0M381.5 283.1h0M381.7 280.0h0M381.8 282.7h0M381.8 283.8h0M381.8 282.4h0M381.9 282.3h0M382.0 283.3h0M382.0 280.1h0M382.2 277.0h0M382.3 282.6h0M382.3 282.2h0M382.4 280.5h0M382.4 282.2h0M382.4 280.5h0M382.5 280.6h0M382.9 285.3h0M383.0 281.0h0M383.0 279.8h0M383.0 282.4h0M383.1 280.2h0M383.1 283.1h0M383.2 280.3h0M383.2 278.7h0M383.3 281.4h0M383.3 277.8h0M383.4 284.4h0M383.4 282.1h0M383.5 284.2h0M383.7 284.5h0M383.8 283.3h0M383.9 281.6h0M383.9 286.0h0M383.9 283.8h0M384.0 281.6h0M384.3 280.6h0M384.4 287.3h0M384.6 284.9h0M384.7 284.6h0M384.8 282.9h0M385.0 288.5h0M385.0 286.7h0M385.2 288.6h0M385.2 286.8h0M385.6 285.9h0M385.7 288.4h0M385.7 283.8h0M385.8 283.4h0M385.9 286.2h0M386.0 288.0h0M386.1 288.3h0M386.1 286.5h0M386.1 286.1h0M386.2 287.3h0M386.3 287.4h0M386.3 287.2h0M386.4 289.0h0M386.5 287.3h0M386.5 286.4h0M386.5 289.9h0M386.5 287.4h0M386.5 285.3h0M386.6 287.3h0M386.8 285.1h0M386.9 286.7h0M386.9 283.5h0M387.1 283.7h0M387.1 283.1h0M387.4 288.4h0M387.4 288.5h0M387.5 287.9h0M387.6 285.7h0M387.6 286.1h0M387.7 284.5h0M387.8 285.9h0M387.8 285.5h0M387.8 283.6h0M388.0 287.8h0M388.2 287.9h0M388.2 286.1h0M388.3 285.1h0M388.3 285.1h0M388.3 286.2h0M388.7 286.9h0M388.8 283.5h0M388.8 284.9h0M389.0 283.6h0M389.1 288.0h0M389.2 282.2h0M389.3 282.2h0M389.6 283.4h0M389.9 285.3h0M390.2 283.6h0M390.2 290.2h0M390.3 288.2h0M390.3 281.8h0M390.5 287.6h0M390.6 287.3h0M390.6 283.6h0M390.7 285.4h0M390.7 285.3h0M390.9 285.1h0M390.9 285.7h0M391.0 286.7h0M391.0 284.8h0M391.1 285.5h0M391.4 283.2h0M391.5 287.0h0M391.5 284.7h0M391.6 288.5h0M391.7 290.6h0M391.8 289.8h0M391.8 285.2h0M391.8 287.0h0M391.9 286.8h0M391.9 287.5h0M391.9 284.7h0M392.0 284.9h0M392.2 287.4h0M392.5 285.2h0M392.9 288.9h0M393.0 288.0h0M393.1 288.1h0M393.3 287.6h0M393.3 287.5h0M393.6 289.8h0M393.6 287.7h0M393.7 287.5h0M393.7 290.6h0M393.7 286.1h0M393.7 285.4h0M393.8 286.9h0M393.9 290.3h0M393.9 285.4h0M394.0 284.9h0M394.6 288.6h0M394.6 288.3h0M394.7 289.2h0M394.8 284.1h0M395.1 286.6h0M395.1 283.8h0M395.1 286.5h0M395.1 282.7h0M395.4 286.2h0M395.4 289.6h0M395.5 287.8h0M395.7 283.1h0M395.7 289.8h0M395.8 289.1h0M395.8 287.5h0M396.0 287.8h0M396.1 286.8h0M396.2 290.5h0M396.3 288.2h0M396.4 285.6h0M396.4 286.6h0M396.5 292.3h0M396.5 290.6h0M396.5 290.3h0M396.6 287.9h0M396.7 290.2h0M396.7 292.0h0M396.7 289.2h0M396.8 291.7h0M397.0 292.7h0M397.0 292.8h0M397.3 290.8h0M397.4 291.9h0M397.4 288.0h0M397.9 289.8h0M398.0 293.0h0M398.0 294.3h0M398.0 290.7h0M398.1 292.4h0M398.2 289.5h0M398.2 288.2h0M398.2 292.4h0M398.5 291.8h0M398.5 289.8h0M398.7 290.6h0M398.7 292.2h0M398.7 291.2h0M398.9 294.7h0M399.2 289.9h0M399.3 294.2h0M399.6 290.3h0M400.4 294.7h0M400.6 291.0h0M400.9 296.5h0M400.9 294.5h0M401.0 299.6h0M401.1 290.4h0M401.3 290.9h0M401.5 297.3h0M401.5 298.6h0M401.5 292.0h0M401.7 297.9h0M401.9 298.6h0M402.2 300.5h0M402.3 297.9h0M402.4 292.1h0M402.4 291.5h0M402.8 303.3h0M402.9 299.8h0M403.0 301.6h0M403.0 297.8h0M403.1 297.0h0M403.1 296.3h0M403.1 294.1h0M403.1 294.9h0M403.3 293.2h0M403.4 294.8h0M403.4 298.9h0M403.5 297.2h0M403.5 295.6h0M403.7 303.0h0M403.8 300.6h0M403.9 297.8h0M404.0 292.3h0M404.0 302.2h0M404.1 301.1h0M404.1 295.3h0M404.3 302.0h0M404.3 297.6h0M404.5 298.1h0M404.5 297.5h0M404.5 298.7h0M404.5 299.3h0M404.7 305.8h0M404.8 300.9h0M405.0 304.1h0M405.0 302.2h0M405.1 301.8h0M405.2 299.2h0M405.4 301.2h0M405.4 305.8h0M405.6 304.1h0M405.7 299.6h0M405.8 301.5h0M405.9 299.8h0M406.1 301.5h0M406.2 301.8h0M406.4 301.3h0M406.5 305.1h0M406.6 305.5h0M406.7 304.2h0M406.7 302.7h0M406.9 303.9h0M407.0 300.6h0M407.2 304.9h0M407.3 308.2h0M407.3 295.2h0M407.6 302.5h0M407.8 301.3h0M407.8 302.2h0M407.9 302.0h0M407.9 300.2h0M407.9 303.0h0M408.0 301.4h0M408.0 302.5h0M408.0 302.5h0M408.2 302.2h0M408.3 309.5h0M408.3 300.7h0M408.4 302.7h0M408.5 299.4h0M408.7 301.2h0M408.9 306.0h0M408.9 303.8h0M409.1 301.1h0M409.3 299.2h0M409.3 303.2h0M409.3 301.0h0M409.3 302.9h0M409.4 300.2h0M409.6 301.8h0M409.6 301.5h0M409.6 297.5h0M409.6 304.4h0M409.7 300.2h0M409.8 302.8h0M410.0 304.3h0M410.0 309.0h0M410.2 304.1h0M410.2 304.9h0M410.2 301.7h0M410.2 302.4h0M410.3 303.0h0M410.3 304.7h0M410.3 299.1h0M410.4 301.5h0M410.5 306.3h0M410.5 298.1h0M410.6 297.5h0M410.7 299.9h0M410.7 300.5h0M410.8 304.5h0M410.9 302.6h0M411.0 304.3h0M411.1 300.2h0M411.2 301.5h0M411.3 302.4h0M411.3 299.7h0M411.5 303.3h0M411.6 302.1h0M411.9 304.3h0M412.2 300.6h0M412.3 299.2h0M412.5 306.3h0M412.7 302.9h0M412.8 301.9h0M412.9 309.7h0M413.0 306.0h0M413.1 304.9h0M413.2 301.8h0M413.2 305.6h0M413.3 303.6h0M413.3 303.0h0M413.4 307.1h0M413.4 304.6h0M413.4 303.7h0M413.5 300.3h0M413.5 301.0h0M413.6 306.9h0M413.8 304.3h0M414.1 302.2h0M414.2 305.4h0M414.2 305.6h0M414.3 303.7h0M414.4 304.0h0M414.5 306.7h0M414.7 305.8h0M414.7 303.4h0M414.8 303.3h0M414.9 305.6h0M415.0 304.7h0M415.3 308.7h0M415.3 309.1h0M415.3 306.3h0M415.4 303.0h0M415.4 307.5h0M415.5 310.4h0M415.5 310.0h0M415.6 312.6h0M415.6 309.8h0M415.7 309.3h0M416.1 309.6h0M416.1 308.1h0M416.6 314.1h0M416.6 307.5h0M416.7 308.2h0M416.9 308.3h0M416.9 311.2h0M417.0 306.8h0M417.1 306.4h0M417.3 309.8h0M417.3 310.0h0M417.3 306.7h0M417.4 309.6h0M417.4 306.3h0M417.4 309.4h0M417.7 303.8h0M417.7 305.4h0M417.7 305.9h0M417.8 304.9h0M417.9 307.4h0M418.0 311.2h0M418.0 308.0h0M418.0 313.8h0M418.1 310.9h0M418.1 312.0h0M418.1 310.4h0M418.3 311.9h0M418.3 313.0h0M418.4 307.8h0M418.5 308.1h0M418.6 307.8h0M418.6 306.1h0M418.8 309.7h0M418.9 306.8h0M418.9 312.1h0M419.0 305.8h0M419.1 309.4h0M419.2 311.1h0M419.3 308.1h0M419.4 306.6h0M419.7 310.2h0M419.7 311.1h0M419.7 308.8h0M419.8 313.7h0M419.9 308.9h0M419.9 313.1h0M420.0 317.1h0M420.0 315.2h0M420.0 315.3h0M420.1 312.1h0M420.1 311.3h0M420.2 314.5h0M420.4 310.4h0M420.4 312.9h0M420.5 309.7h0M420.5 313.3h0M420.5 312.8h0M420.5 308.3h0M420.6 313.6h0M420.7 315.7h0M420.7 314.7h0M420.8 314.1h0M420.8 316.1h0M420.9 313.7h0M421.1 312.1h0M421.1 316.1h0M421.1 318.9h0M421.2 314.2h0M421.3 318.4h0M421.4 313.6h0M421.4 310.6h0M421.6 312.1h0M421.7 313.5h0M421.8 319.5h0M422.0 317.2h0M422.3 315.4h0M422.3 317.1h0M422.6 322.0h0M422.8 318.3h0M422.8 316.9h0M422.9 317.6h0M422.9 313.3h0M423.0 317.0h0M423.0 319.0h0M423.1 317.4h0M424.0 316.6h0M424.1 316.5h0M424.3 312.4h0M424.3 320.6h0M424.3 321.1h0M424.6 313.7h0M424.8 309.4h0M424.9 312.3h0M424.9 311.0h0M425.0 310.1h0M425.0 315.7h0M425.1 315.3h0M425.4 314.2h0M425.4 318.6h0M425.4 316.3h0M425.5 313.4h0M425.5 318.9h0M425.9 314.5h0M426.3 317.1h0M426.5 315.7h0M426.5 319.1h0M426.7 317.6h0M426.7 314.3h0M426.8 316.2h0M426.8 319.1h0M426.9 318.6h0M427.1 322.9h0M427.2 315.8h0M427.2 318.7h0M427.3 322.5h0M427.3 317.3h0M427.4 310.7h0M427.4 321.1h0M427.5 319.1h0M427.6 320.9h0M427.7 321.7h0M427.8 323.4h0M427.9 323.7h0M427.9 321.4h0M428.1 323.4h0M428.1 317.3h0M428.2 316.8h0M428.4 319.3h0M428.4 323.3h0M428.6 318.2h0M428.8 318.4h0M428.9 319.7h0M428.9 317.1h0M429.0 314.2h0M429.0 313.8h0M429.0 320.2h0M429.0 315.9h0M429.0 318.9h0M429.2 318.9h0M429.2 315.4h0M429.3 318.5h0M429.5 312.8h0M429.5 317.3h0M429.6 316.2h0M429.9 319.8h0M429.9 318.5h0M430.0 319.9h0M430.2 321.1h0M430.2 317.6h0M430.4 316.0h0M430.5 316.5h0M430.5 322.3h0M430.8 318.2h0M430.8 320.6h0M430.8 321.1h0M430.8 320.0h0M431.1 317.6h0M431.1 313.7h0M431.2 320.4h0M431.2 316.1h0M431.3 314.1h0M431.5 316.4h0M431.9 318.7h0M431.9 313.7h0M431.9 319.2h0M432.0 319.3h0M432.4 320.0h0M432.4 318.9h0M432.6 316.3h0M432.6 314.4h0M432.7 317.4h0M432.7 317.0h0M432.7 322.9h0M432.7 319.9h0M432.8 321.8h0M433.0 321.1h0M433.0 315.5h0M433.1 322.0h0M433.2 319.9h0M433.4 319.0h0M433.4 324.1h0M433.5 327.5h0M433.7 325.1h0M433.7 326.1h0M433.9 325.3h0M433.9 324.8h0M434.0 328.7h0M434.2 326.6h0M434.6 326.9h0M434.7 326.9h0M434.8 316.1h0M434.8 323.9h0M435.3 324.3h0M435.4 324.5h0M435.4 319.0h0M435.6 321.2h0M435.7 325.8h0M435.8 324.9h0M436.0 324.3h0M436.1 319.6h0M436.2 322.7h0M436.5 326.6h0M436.5 322.6h0M436.7 327.4h0M436.7 325.9h0M436.7 326.3h0M436.8 321.7h0M436.8 320.4h0M436.9 320.4h0M436.9 326.3h0M437.0 327.6h0M437.0 322.7h0M437.1 321.8h0M437.2 325.3h0M437.3 328.6h0M437.3 325.7h0M437.4 327.2h0M437.4 327.6h0M437.5 328.6h0M437.5 326.1h0M437.6 328.8h0M437.7 327.8h0M437.8 325.7h0M438.0 330.1h0M438.0 323.4h0M438.1 325.0h0M438.2 325.0h0M438.2 329.1h0M438.2 329.8h0M438.3 324.4h0M438.4 326.6h0M438.4 325.7h0M438.4 324.3h0M438.4 324.7h0M438.4 325.8h0M438.5 328.0h0M438.5 324.3h0M438.5 325.9h0M438.7 328.3h0M438.8 331.0h0M438.9 329.3h0M439.0 327.4h0M439.2 327.1h0M439.3 331.2h0M439.3 329.9h0M439.4 330.3h0M439.6 330.9h0M439.7 331.3h0M439.7 331.3h0M439.9 332.3h0M440.0 329.4h0M440.0 335.0h0M440.1 334.6h0M440.4 332.8h0M440.6 334.0h0M440.7 336.9h0M440.8 331.6h0M440.8 333.4h0M441.0 331.5h0M441.5 330.2h0M441.6 335.2h0M441.6 332.7h0M441.7 332.0h0M441.7 332.3h0M441.8 330.5h0M441.8 335.4h0M441.9 332.1h0M441.9 330.0h0M442.0 327.8h0M442.0 329.9h0M442.3 331.8h0M442.3 331.5h0M442.4 331.4h0M442.4 329.3h0M442.4 330.7h0M442.5 331.7h0M442.5 328.6h0M442.7 331.9h0M442.7 331.0h0M442.8 330.1h0M442.8 334.5h0M442.8 332.4h0M443.3 331.4h0M443.3 336.2h0M443.5 338.2h0M443.7 330.6h0M444.1 332.7h0M444.4 335.2h0M444.5 333.0h0M444.5 335.3h0M444.5 335.1h0M444.7 327.4h0M444.7 334.2h0M444.7 328.1h0M444.7 329.8h0M444.9 328.8h0M445.0 332.7h0M445.0 327.8h0M445.1 333.1h0M445.2 327.9h0M445.2 337.0h0M445.2 329.1h0M445.3 330.6h0M445.4 327.9h0M445.4 328.5h0M445.6 335.0h0M445.6 331.3h0M445.8 329.1h0M445.8 329.5h0M445.9 331.3h0M445.9 334.6h0M445.9 329.9h0M445.9 330.5h0M446.1 332.8h0M446.2 335.7h0M446.3 331.7h0M446.4 328.3h0M446.6 328.2h0M447.0 334.6h0M447.6 332.8h0M447.6 328.4h0M447.7 331.1h0M447.8 330.5h0M447.9 332.4h0M448.0 335.3h0M448.0 334.5h0M448.1 335.5h0M448.2 329.2h0M448.8 334.6h0M448.9 334.4h0M449.0 333.6h0M449.2 337.8h0M449.3 333.4h0M104.7 78.8h0M108.3 80.8h0M109.7 82.0h0M115.0 82.0h0M120.0 87.0h0M124.8 87.0h0M130.4 92.8h0M135.5 95.3h0M140.1 102.8h0M144.6 104.5h0M149.9 107.0h0M154.4 108.6h0M160.1 115.3h0M164.8 117.8h0M170.5 120.3h0M174.8 128.6h0M179.4 129.5h0M185.3 132.8h0M190.5 135.3h0M195.0 139.5h0M200.2 142.8h0M205.5 143.6h0M207.1 145.8h0M209.5 151.8h0M216.5 161.8h0M219.5 162.8h0M225.1 164.1h0M230.2 168.2h0M233.5 165.3h0M238.4 170.3h0M239.5 171.1h0M244.5 179.5h0M250.4 182.0h0M252.9 178.6h0M254.5 183.8h0M257.5 189.5h0M260.4 189.3h0M264.9 188.6h0M269.7 192.8h0M274.8 202.8h0M278.2 200.3h0M283.7 203.2h0M288.2 212.8h0M290.4 212.8h0M295.6 211.1h0M299.8 217.0h0M305.1 222.8h0M309.4 228.6h0M314.6 232.0h0M319.5 235.3h0M325.2 237.8h0M330.1 237.8h0M334.6 242.0h0M339.9 246.1h0M344.9 250.8h0M349.7 254.5h0M354.9 258.2h0M360.3 261.1h0M364.7 262.0h0M370.1 264.5h0M375.5 268.6h0M380.4 271.1h0M384.8 281.1h0M387.5 280.3h0M392.8 282.0h0M400.4 284.1h0M404.9 290.3h0M410.6 297.8h0M413.8 296.1h0M418.0 304.5h0M420.4 307.0h0M425.1 309.5h0M427.3 310.8h0M429.7 312.0h0M434.4 312.8h0M439.4 323.6h0M445.2 324.5h0M449.3 331.1h0M104.4 79.8h0M110.7 85.2h0M115.7 87.5h0M119.7 87.9h0M126.1 90.6h0M129.5 93.5h0M135.7 101.4h0M141.4 105.9h0M144.5 108.3h0M147.3 107.6h0M151.2 110.2h0M156.2 111.2h0M161.3 118.4h0M165.7 119.2h0M168.7 121.5h0M175.6 129.4h0M178.9 132.7h0M181.4 132.0h0M185.2 134.8h0M190.7 137.0h0M197.2 142.9h0M200.2 144.2h0M203.2 147.0h0M209.0 153.5h0M216.0 163.0h0M221.4 164.4h0M227.2 167.3h0M231.5 168.5h0M236.8 171.4h0M243.7 178.2h0M250.6 182.7h0M256.7 189.8h0M259.6 190.8h0M265.2 191.1h0M269.7 194.0h0M272.8 202.3h0M277.1 203.0h0M280.6 203.3h0M286.5 211.3h0M289.5 215.5h0M294.2 214.6h0M300.5 218.5h0M306.3 226.4h0M309.4 228.6h0M312.5 231.5h0M319.4 237.4h0M323.4 237.9h0M326.4 241.9h0M332.8 241.0h0M337.4 244.8h0M344.3 251.0h0M348.6 255.5h0M353.0 258.3h0M359.9 262.2h0M365.0 262.9h0M370.5 267.7h0M374.9 269.9h0M378.4 271.6h0M383.0 278.3h0M386.9 281.4h0M391.3 283.9h0M396.9 284.0h0M402.6 291.1h0M408.5 296.4h0M413.5 297.5h0M416.1 301.9h0M420.0 309.0h0M424.0 310.4h0M430.5 312.9h0M436.7 318.1h0M440.1 324.5h0M447.0 328.7h0M104.8 87.5h0M108.2 90.7h0M110.4 94.7h0M114.4 100.5h0M120.1 103.0h0M125.4 101.4h0M129.9 106.4h0M135.5 113.9h0M140.0 120.5h0M144.9 125.5h0M150.1 124.7h0M155.4 128.0h0M160.0 130.5h0M164.9 132.7h0M169.6 135.2h0M175.2 143.0h0M179.9 147.2h0M184.8 151.4h0M189.7 149.7h0M194.7 153.0h0M199.8 157.2h0M205.3 162.2h0M207.4 165.2h0M209.4 165.8h0M216.2 168.2h0M219.8 173.9h0M224.8 175.5h0M230.5 181.4h0M234.0 178.2h0M238.7 183.2h0M240.0 186.4h0M244.5 191.4h0M249.9 193.9h0M252.4 200.5h0M255.0 204.7h0M257.9 206.7h0M261.0 206.2h0M264.6 204.7h0M270.5 211.4h0M274.6 216.4h0M277.9 217.2h0M283.1 219.7h0M287.8 227.2h0M289.9 229.7h0M295.6 229.7h0M300.5 234.7h0M305.2 239.7h0M309.9 241.4h0M315.4 241.4h0M320.0 250.5h0M325.5 251.4h0M330.1 253.0h0M335.0 252.2h0M340.3 258.0h0M345.0 262.6h0M349.5 266.8h0M354.8 270.7h0M359.6 272.6h0M364.8 274.7h0M370.6 279.7h0M374.7 282.2h0M379.6 283.9h0M385.0 291.4h0M387.3 292.2h0M393.9 294.7h0M400.3 297.6h0M405.5 307.6h0M409.7 310.5h0M413.0 311.8h0M418.2 317.2h0M420.2 320.5h0M424.6 328.0h0M427.8 328.9h0M430.0 325.5h0M435.0 329.7h0M440.3 337.2h0M444.7 340.5h0M449.7 341.4h0M103.6 86.9h0M110.1 93.7h0M113.8 97.7h0M120.5 101.6h0M127.4 102.2h0M130.5 106.1h0M135.8 112.0h0M139.4 117.2h0M143.8 122.3h0M147.2 124.1h0M151.1 120.8h0M157.2 125.2h0M160.8 129.8h0M167.7 132.0h0M171.8 135.8h0M178.0 143.4h0M182.4 147.3h0M186.8 148.5h0M193.3 149.0h0M200.2 155.0h0M207.0 163.3h0M216.9 168.9h0M223.6 172.7h0M230.0 179.0h0M235.9 178.6h0M240.9 186.3h0M244.8 190.5h0M248.7 191.4h0M255.0 200.8h0M261.5 205.1h0M264.2 201.5h0M269.0 206.9h0M272.9 212.4h0M279.4 216.7h0M286.3 222.3h0M291.3 226.4h0M294.3 225.5h0M298.2 230.6h0M302.7 234.6h0M309.0 238.4h0M313.4 240.7h0M319.0 247.0h0M323.6 249.6h0M328.5 251.5h0M332.3 250.8h0M336.1 252.2h0M342.7 258.6h0M345.6 260.0h0M351.1 266.2h0M356.1 269.6h0M361.3 271.4h0M368.1 275.3h0M372.7 279.7h0M378.7 281.6h0M383.7 288.1h0M390.3 291.3h0M392.9 292.3h0M398.2 295.1h0M403.6 303.8h0M408.1 308.7h0M411.0 310.0h0M414.6 311.4h0M418.0 315.0h0M421.2 319.0h0M427.8 325.9h0M431.8 325.5h0M435.8 329.4h0M439.5 333.8h0M442.4 336.5h0M446.2 337.6h0M103.3 77.6h0M103.3 79.6h0M103.4 81.6h0M103.2 83.6h0M103.2 85.6h0M103.2 87.6h0M449.5 331.1h0M449.3 333.1h0M449.3 335.1h0M449.3 337.1h0M449.5 339.1h0M449.5 341.1h0M168.3 103.3h0M104.5 74.6h0M114.7 75.8h0M106.3 96.2h0M220.5 157.8h0M257.5 213.3h0M256.6 210.4h0M367.5 258.6h0M380.5 270.8h0M433.7 310.8h0M485.5 363.5h0M485.6 362.9h0M485.6 362.4h0M485.8 363.8h0M485.9 365.6h0M485.9 364.0h0M485.9 365.6h0M486.1 365.2h0M486.1 363.6h0M486.2 364.2h0M486.3 366.5h0M486.3 364.7h0M486.7 365.6h0M486.7 361.0h0M486.8 363.9h0M487.1 359.4h0M487.2 365.8h0M487.2 364.2h0M487.2 365.2h0M487.3 362.4h0M487.4 363.8h0M487.4 360.7h0M487.4 362.0h0M487.5 363.9h0M487.5 363.6h0M487.6 364.5h0M487.6 365.2h0M487.9 366.4h0M488.1 365.1h0M488.3 366.7h0M488.4 361.9h0M488.4 361.4h0M488.5 364.2h0M488.5 366.1h0M488.8 361.7h0M488.8 365.0h0M488.9 363.8h0M489.2 365.9h0M489.2 365.4h0M489.3 363.7h0M489.4 363.8h0M489.5 365.9h0M489.5 369.2h0M489.7 364.1h0M489.7 367.4h0M490.0 366.8h0M490.0 365.8h0M490.6 368.0h0M490.7 367.6h0M490.8 366.2h0M490.9 368.7h0M490.9 365.2h0M491.6 371.0h0M491.8 363.8h0M491.9 370.8h0M491.9 366.7h0M492.1 365.0h0M492.2 366.7h0M492.2 366.2h0M492.5 367.4h0M492.5 366.0h0M492.7 369.5h0M492.8 367.0h0M492.9 366.5h0M493.1 368.1h0M493.1 369.2h0M493.1 368.1h0M493.2 370.8h0M493.3 365.0h0M493.4 365.2h0M493.5 365.0h0M493.6 364.0h0M493.6 364.4h0M493.7 363.5h0M493.7 361.2h0M493.8 362.3h0M493.8 363.9h0M493.9 361.3h0M493.9 365.2h0M494.1 366.4h0M494.2 365.3h0M494.2 362.8h0M494.6 362.7h0M494.8 364.9h0M494.8 364.8h0M495.0 366.8h0M495.0 366.1h0M495.5 365.6h0M495.5 364.5h0M495.6 365.3h0M495.7 364.8h0M495.7 367.5h0M495.7 365.8h0M495.8 364.9h0M495.8 364.6h0M485.0 360.8h0M486.6 358.2h0M489.5 359.5h0M493.0 360.5h0M496.5 363.2h0M487.2 360.7h0M490.7 360.5h0M495.5 364.6h0M485.1 366.0h0M486.6 368.0h0M490.0 369.5h0M493.6 372.4h0M496.1 368.2h0M487.8 366.6h0M493.5 370.3h0M488.5 343.3h0M490.5 352.9h0M488.9 354.4h0M487.3 356.0h0M526.1 392.0h0M526.1 388.5h0M526.1 391.2h0M526.4 389.6h0M526.5 389.7h0M526.7 390.9h0M526.7 388.2h0M526.7 391.7h0M526.9 390.9h0M526.9 388.9h0M526.9 390.7h0M527.0 392.1h0M527.0 393.4h0M527.1 394.2h0M527.3 387.7h0M527.4 389.3h0M527.6 389.5h0M527.7 387.9h0M527.8 395.9h0M527.9 390.0h0M528.0 390.5h0M528.0 390.3h0M528.1 388.1h0M528.4 392.0h0M528.5 390.4h0M528.7 389.4h0M528.7 390.6h0M528.8 392.2h0M529.1 392.5h0M529.1 392.1h0M529.1 392.8h0M529.2 387.9h0M529.2 387.2h0M529.3 389.9h0M529.3 391.9h0M529.4 390.8h0M529.7 393.6h0M529.7 390.8h0M529.8 392.6h0M529.8 393.8h0M529.9 389.8h0M529.9 393.4h0M530.0 396.2h0M530.1 384.5h0M530.2 390.2h0M530.2 392.5h0M530.4 394.9h0M530.4 389.8h0M530.8 392.9h0M530.8 396.3h0M530.9 394.0h0M531.0 392.4h0M531.1 391.6h0M531.2 393.6h0M531.2 393.6h0M531.3 393.7h0M531.4 392.8h0M531.5 386.7h0M531.6 389.4h0M531.7 391.1h0M531.7 391.8h0M531.7 392.0h0M531.8 388.7h0M531.8 392.3h0M531.9 395.4h0M532.1 392.9h0M532.4 393.9h0M532.4 390.9h0M532.4 389.5h0M532.5 393.6h0M532.5 392.5h0M532.6 395.4h0M532.7 392.3h0M533.0 391.3h0M533.1 390.4h0M533.2 393.0h0M533.3 387.1h0M533.4 396.9h0M533.6 392.2h0M533.6 394.2h0M533.7 392.5h0M533.8 398.0h0M534.0 388.7h0M534.2 393.6h0M534.2 392.1h0M534.4 394.9h0M534.5 393.8h0M534.6 389.1h0M534.8 388.6h0M534.9 386.8h0M534.9 392.5h0M535.0 393.8h0M535.1 394.2h0M535.1 392.0h0M535.2 393.4h0M535.2 389.0h0M535.3 397.1h0M535.5 396.4h0M535.6 396.7h0M535.6 396.4h0M535.6 399.3h0M535.7 390.3h0M535.8 390.5h0M535.9 393.7h0M536.0 392.1h0M536.0 392.3h0M536.0 395.9h0M536.0 392.8h0M536.1 396.9h0M536.3 393.8h0M536.3 388.0h0M536.5 392.9h0M536.6 392.0h0M536.6 389.9h0M536.7 396.0h0M536.7 391.8h0M536.7 390.2h0M536.7 393.8h0M536.8 400.5h0M536.8 397.2h0M536.9 401.9h0M536.9 397.9h0M537.0 400.3h0M537.1 397.3h0M537.2 397.5h0M537.4 389.8h0M537.5 393.1h0M538.0 394.4h0M538.1 396.0h0M538.1 399.3h0M538.5 398.7h0M539.0 398.5h0M539.1 393.2h0M539.2 395.1h0M539.4 397.3h0M539.4 400.3h0M539.4 399.4h0M539.5 395.6h0M539.6 393.3h0M539.6 399.1h0M539.7 394.5h0M539.8 396.8h0M539.9 396.1h0M540.0 396.5h0M540.2 392.8h0M540.2 391.9h0M540.3 395.0h0M540.3 393.4h0M540.3 396.6h0M540.7 392.7h0M540.7 395.7h0M540.7 394.8h0M540.8 404.1h0M540.9 393.8h0M541.0 396.7h0M541.0 398.2h0M541.1 397.6h0M541.2 395.2h0M541.2 396.4h0M541.2 397.3h0M541.3 401.7h0M541.4 401.0h0M541.4 402.6h0M541.4 398.7h0M541.6 400.6h0M541.7 402.5h0M541.8 399.4h0M541.9 398.9h0M541.9 398.5h0M541.9 399.4h0M542.0 395.8h0M542.0 398.1h0M542.3 394.9h0M542.3 398.7h0M542.3 398.8h0M542.3 397.1h0M542.3 395.2h0M542.4 397.5h0M542.4 400.9h0M542.5 396.8h0M542.6 398.7h0M542.7 393.5h0M542.7 394.6h0M542.8 397.5h0M542.8 399.4h0M542.8 399.1h0M542.9 394.7h0M543.1 399.8h0M543.1 393.4h0M543.2 393.5h0M543.3 397.5h0M543.5 399.3h0M543.9 400.9h0M544.0 396.2h0M544.1 394.5h0M544.1 395.0h0M544.1 396.0h0M544.2 399.8h0M544.4 397.4h0M544.4 397.6h0M544.6 400.7h0M545.0 399.3h0M545.0 400.4h0M545.1 403.1h0M545.2 397.0h0M545.2 398.4h0M545.2 396.3h0M545.2 400.3h0M545.2 396.6h0M545.3 396.7h0M545.4 400.8h0M545.4 395.8h0M545.4 402.7h0M545.5 401.3h0M545.5 400.1h0M545.6 401.6h0M545.6 403.8h0M545.6 402.5h0M545.7 400.4h0M545.7 402.8h0M545.8 400.5h0M545.8 401.3h0M545.8 402.6h0M545.9 402.4h0M545.9 401.1h0M546.1 402.0h0M546.4 402.0h0M546.4 401.4h0M547.0 405.8h0M547.0 405.4h0M547.0 402.5h0M547.1 401.2h0M547.2 405.8h0M547.4 407.2h0M547.5 403.8h0M547.5 404.8h0M547.5 403.1h0M547.6 403.1h0M547.7 401.7h0M547.8 402.8h0M547.8 402.9h0M547.9 403.5h0M548.0 404.7h0M548.0 401.6h0M548.1 405.9h0M548.1 403.6h0M548.2 403.8h0M548.2 401.1h0M548.4 398.2h0M548.4 402.6h0M548.5 402.1h0M548.6 397.9h0M548.6 405.2h0M548.7 406.1h0M548.8 402.5h0M548.8 403.8h0M549.1 405.2h0M549.5 403.6h0M549.9 397.0h0M549.9 405.2h0M549.9 399.3h0M550.0 402.4h0M550.0 407.3h0M550.2 402.6h0M550.4 401.4h0M550.4 403.0h0M550.5 402.5h0M550.5 397.2h0M550.6 405.4h0M551.1 402.9h0M551.1 403.8h0M551.4 404.7h0M551.5 403.1h0M551.5 405.6h0M551.6 402.0h0M551.7 400.8h0M551.7 404.6h0M552.0 404.7h0M552.0 406.0h0M552.4 402.8h0M553.0 406.5h0M553.0 406.5h0M553.1 402.6h0M553.2 405.6h0M553.3 404.4h0M553.3 406.1h0M553.3 405.6h0M553.6 404.0h0M553.9 403.6h0M553.9 405.3h0M526.4 387.8h0M526.6 385.0h0M531.7 382.6h0M535.8 387.8h0M541.3 391.8h0M544.6 394.8h0M547.7 398.8h0M550.8 396.6h0M553.5 399.0h0M554.0 403.8h0M527.2 385.7h0M531.8 385.2h0M537.7 391.1h0M543.7 395.5h0M548.7 398.5h0M552.7 401.4h0M525.8 393.2h0M526.5 395.7h0M531.6 398.7h0M535.6 401.2h0M541.0 405.2h0M545.1 406.2h0M546.8 407.2h0M550.9 409.7h0M552.7 410.2h0M554.6 408.2h0M526.1 392.4h0M531.0 396.2h0M533.6 398.2h0M539.3 401.8h0M543.2 404.3h0M546.0 405.8h0M549.7 407.5h0M553.4 408.6h0" fill="none" stroke="#f00" stroke-width="5.6" stroke-linecap="round"/>
<g stroke="#000" stroke-width="1.11" fill="none">
<path d="M96.5 427.5v5.4"/><path d="M164.5 427.5v5.4"/><path d="M232.5 427.5v5.4"/><path d="M300.5 427.5v5.4"/><path d="M368.5 427.5v5.4"/><path d="M436.5 427.5v5.4"/><path d="M504.5 427.5v5.4"/><path d="M572.5 427.5v5.4"/><path d="M80.5 90.5h-5.4"/><path d="M80.5 133.5h-5.4"/><path d="M80.5 175.5h-5.4"/><path d="M80.5 218.5h-5.4"/><path d="M80.5 260.5h-5.4"/><path d="M80.5 303.5h-5.4"/><path d="M80.5 345.5h-5.4"/><path d="M80.5 387.5h-5.4"/>
<rect x="80.5" y="58.5" width="496" height="369"/>
</g>
<g font-size="13.89px" text-anchor="middle" letter-spacing="-0.12">
<text x="96.5" y="447.5">2006</text><text x="164.5" y="447.5">2008</text><text x="232.5" y="447.5">2010</text><text x="300.5" y="447.5">2012</text><text x="368.5" y="447.5">2014</text><text x="436.5" y="447.5">2016</text><text x="504.5" y="447.5">2018</text><text x="572.5" y="447.5">2020</text>
</g>
<g font-size="13.89px" text-anchor="end" letter-spacing="-0.3">
<text x="70.1" y="96">0.00</text><text x="70.1" y="138">−0.02</text><text x="70.1" y="181">−0.04</text><text x="70.1" y="223">−0.06</text><text x="70.1" y="266">−0.08</text><text x="70.1" y="308">−0.10</text><text x="70.1" y="351">−0.12</text><text x="70.1" y="393">−0.14</text>
</g>
<text font-size="13.89px" text-anchor="middle" transform="translate(20.2 244.1) rotate(-90)">m</text>
<text font-size="16.67px" text-anchor="middle" letter-spacing="0.13" x="327.7" y="49.3">P444 E</text>
<rect x="377.7" y="65.7" width="191.6" height="24.6" rx="2.8" ry="2.8" fill="#fff" fill-opacity="0.8" stroke="#dedede" stroke-width="1.3"/>
<circle cx="397.5" cy="76.5" r="2.7" fill="#f00"/>
<text font-size="13.89px" letter-spacing="0.06" x="426.4" y="80.65">repro2018a (IGS14)</text>
</svg>
</body></html>
